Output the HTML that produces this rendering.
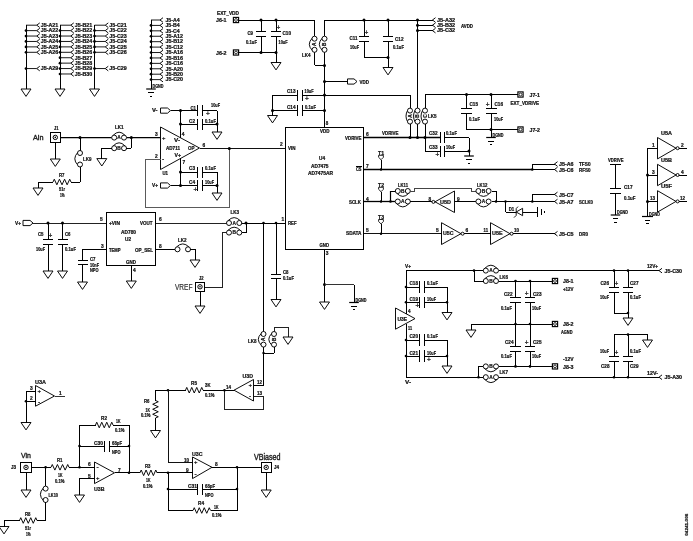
<!DOCTYPE html>
<html><head><meta charset="utf-8"><title>schematic</title>
<style>
html,body{margin:0;padding:0;background:#fff;}
svg{display:block;will-change:transform;transform:translateZ(0)}
text{font-family:"Liberation Sans",sans-serif;stroke:#111;stroke-width:0.22px;}
</style></head><body>
<svg width="693" height="541" viewBox="0 0 693 541">
<rect width="693" height="541" fill="#fff"/>
<line x1="26" y1="25.2" x2="36.75" y2="25.2" stroke="#000" stroke-width="0.9"/>
<path d="M39.75 22.9 L36.75 25.2 L39.75 27.5" fill="none" stroke="#000" stroke-width="0.95" stroke-linejoin="miter"/>
<text x="40.75" y="27" font-size="5" font-weight="bold" text-anchor="start" fill="#111" textLength="17.5" lengthAdjust="spacingAndGlyphs">J5-A21</text>
<line x1="26" y1="30.62" x2="36.75" y2="30.62" stroke="#000" stroke-width="0.9"/>
<path d="M39.75 28.32 L36.75 30.62 L39.75 32.92" fill="none" stroke="#000" stroke-width="0.95" stroke-linejoin="miter"/>
<text x="40.75" y="32.42" font-size="5" font-weight="bold" text-anchor="start" fill="#111" textLength="17.5" lengthAdjust="spacingAndGlyphs">J5-A22</text>
<line x1="26" y1="36.04" x2="36.75" y2="36.04" stroke="#000" stroke-width="0.9"/>
<path d="M39.75 33.74 L36.75 36.04 L39.75 38.34" fill="none" stroke="#000" stroke-width="0.95" stroke-linejoin="miter"/>
<text x="40.75" y="37.84" font-size="5" font-weight="bold" text-anchor="start" fill="#111" textLength="17.5" lengthAdjust="spacingAndGlyphs">J5-A23</text>
<line x1="26" y1="41.46" x2="36.75" y2="41.46" stroke="#000" stroke-width="0.9"/>
<path d="M39.75 39.16 L36.75 41.46 L39.75 43.76" fill="none" stroke="#000" stroke-width="0.95" stroke-linejoin="miter"/>
<text x="40.75" y="43.26" font-size="5" font-weight="bold" text-anchor="start" fill="#111" textLength="17.5" lengthAdjust="spacingAndGlyphs">J5-A24</text>
<line x1="26" y1="46.88" x2="36.75" y2="46.88" stroke="#000" stroke-width="0.9"/>
<path d="M39.75 44.58 L36.75 46.88 L39.75 49.18" fill="none" stroke="#000" stroke-width="0.95" stroke-linejoin="miter"/>
<text x="40.75" y="48.68" font-size="5" font-weight="bold" text-anchor="start" fill="#111" textLength="17.5" lengthAdjust="spacingAndGlyphs">J5-A25</text>
<line x1="26" y1="52.3" x2="36.75" y2="52.3" stroke="#000" stroke-width="0.9"/>
<path d="M39.75 50 L36.75 52.3 L39.75 54.6" fill="none" stroke="#000" stroke-width="0.95" stroke-linejoin="miter"/>
<text x="40.75" y="54.1" font-size="5" font-weight="bold" text-anchor="start" fill="#111" textLength="17.5" lengthAdjust="spacingAndGlyphs">J5-A26</text>
<line x1="26" y1="68.56" x2="36.75" y2="68.56" stroke="#000" stroke-width="0.9"/>
<path d="M39.75 66.26 L36.75 68.56 L39.75 70.86" fill="none" stroke="#000" stroke-width="0.95" stroke-linejoin="miter"/>
<text x="40.75" y="70.36" font-size="5" font-weight="bold" text-anchor="start" fill="#111" textLength="17.5" lengthAdjust="spacingAndGlyphs">J5-A29</text>
<circle cx="26" cy="30.62" r="1.35" fill="#000"/>
<circle cx="26" cy="36.04" r="1.35" fill="#000"/>
<circle cx="26" cy="41.46" r="1.35" fill="#000"/>
<circle cx="26" cy="46.88" r="1.35" fill="#000"/>
<circle cx="26" cy="52.3" r="1.35" fill="#000"/>
<circle cx="26" cy="68.56" r="1.35" fill="#000"/>
<line x1="26" y1="25.2" x2="26" y2="89" stroke="#000" stroke-width="1" shape-rendering="crispEdges"/>
<path d="M21 89 L31 89 L26 96.4 Z" fill="none" stroke="#000" stroke-width="0.95" stroke-linejoin="miter"/>
<line x1="60" y1="25.2" x2="70.75" y2="25.2" stroke="#000" stroke-width="0.9"/>
<path d="M73.75 22.9 L70.75 25.2 L73.75 27.5" fill="none" stroke="#000" stroke-width="0.95" stroke-linejoin="miter"/>
<text x="74.75" y="27" font-size="5" font-weight="bold" text-anchor="start" fill="#111" textLength="17.5" lengthAdjust="spacingAndGlyphs">J5-B21</text>
<line x1="60" y1="30.62" x2="70.75" y2="30.62" stroke="#000" stroke-width="0.9"/>
<path d="M73.75 28.32 L70.75 30.62 L73.75 32.92" fill="none" stroke="#000" stroke-width="0.95" stroke-linejoin="miter"/>
<text x="74.75" y="32.42" font-size="5" font-weight="bold" text-anchor="start" fill="#111" textLength="17.5" lengthAdjust="spacingAndGlyphs">J5-B22</text>
<line x1="60" y1="36.04" x2="70.75" y2="36.04" stroke="#000" stroke-width="0.9"/>
<path d="M73.75 33.74 L70.75 36.04 L73.75 38.34" fill="none" stroke="#000" stroke-width="0.95" stroke-linejoin="miter"/>
<text x="74.75" y="37.84" font-size="5" font-weight="bold" text-anchor="start" fill="#111" textLength="17.5" lengthAdjust="spacingAndGlyphs">J5-B23</text>
<line x1="60" y1="41.46" x2="70.75" y2="41.46" stroke="#000" stroke-width="0.9"/>
<path d="M73.75 39.16 L70.75 41.46 L73.75 43.76" fill="none" stroke="#000" stroke-width="0.95" stroke-linejoin="miter"/>
<text x="74.75" y="43.26" font-size="5" font-weight="bold" text-anchor="start" fill="#111" textLength="17.5" lengthAdjust="spacingAndGlyphs">J5-B24</text>
<line x1="60" y1="46.88" x2="70.75" y2="46.88" stroke="#000" stroke-width="0.9"/>
<path d="M73.75 44.58 L70.75 46.88 L73.75 49.18" fill="none" stroke="#000" stroke-width="0.95" stroke-linejoin="miter"/>
<text x="74.75" y="48.68" font-size="5" font-weight="bold" text-anchor="start" fill="#111" textLength="17.5" lengthAdjust="spacingAndGlyphs">J5-B25</text>
<line x1="60" y1="52.3" x2="70.75" y2="52.3" stroke="#000" stroke-width="0.9"/>
<path d="M73.75 50 L70.75 52.3 L73.75 54.6" fill="none" stroke="#000" stroke-width="0.95" stroke-linejoin="miter"/>
<text x="74.75" y="54.1" font-size="5" font-weight="bold" text-anchor="start" fill="#111" textLength="17.5" lengthAdjust="spacingAndGlyphs">J5-B26</text>
<line x1="60" y1="57.72" x2="70.75" y2="57.72" stroke="#000" stroke-width="0.9"/>
<path d="M73.75 55.42 L70.75 57.72 L73.75 60.02" fill="none" stroke="#000" stroke-width="0.95" stroke-linejoin="miter"/>
<text x="74.75" y="59.52" font-size="5" font-weight="bold" text-anchor="start" fill="#111" textLength="17.5" lengthAdjust="spacingAndGlyphs">J5-B27</text>
<line x1="60" y1="63.14" x2="70.75" y2="63.14" stroke="#000" stroke-width="0.9"/>
<path d="M73.75 60.84 L70.75 63.14 L73.75 65.44" fill="none" stroke="#000" stroke-width="0.95" stroke-linejoin="miter"/>
<text x="74.75" y="64.94" font-size="5" font-weight="bold" text-anchor="start" fill="#111" textLength="17.5" lengthAdjust="spacingAndGlyphs">J5-B28</text>
<line x1="60" y1="68.56" x2="70.75" y2="68.56" stroke="#000" stroke-width="0.9"/>
<path d="M73.75 66.26 L70.75 68.56 L73.75 70.86" fill="none" stroke="#000" stroke-width="0.95" stroke-linejoin="miter"/>
<text x="74.75" y="70.36" font-size="5" font-weight="bold" text-anchor="start" fill="#111" textLength="17.5" lengthAdjust="spacingAndGlyphs">J5-B29</text>
<line x1="60" y1="73.98" x2="70.75" y2="73.98" stroke="#000" stroke-width="0.9"/>
<path d="M73.75 71.68 L70.75 73.98 L73.75 76.28" fill="none" stroke="#000" stroke-width="0.95" stroke-linejoin="miter"/>
<text x="74.75" y="75.78" font-size="5" font-weight="bold" text-anchor="start" fill="#111" textLength="17.5" lengthAdjust="spacingAndGlyphs">J5-B30</text>
<circle cx="60" cy="30.62" r="1.35" fill="#000"/>
<circle cx="60" cy="36.04" r="1.35" fill="#000"/>
<circle cx="60" cy="41.46" r="1.35" fill="#000"/>
<circle cx="60" cy="46.88" r="1.35" fill="#000"/>
<circle cx="60" cy="52.3" r="1.35" fill="#000"/>
<circle cx="60" cy="57.72" r="1.35" fill="#000"/>
<circle cx="60" cy="63.14" r="1.35" fill="#000"/>
<circle cx="60" cy="68.56" r="1.35" fill="#000"/>
<circle cx="60" cy="73.98" r="1.35" fill="#000"/>
<line x1="60" y1="25.2" x2="60" y2="89" stroke="#000" stroke-width="1" shape-rendering="crispEdges"/>
<path d="M55 89 L65 89 L60 96.4 Z" fill="none" stroke="#000" stroke-width="0.95" stroke-linejoin="miter"/>
<line x1="94.5" y1="25.2" x2="105.25" y2="25.2" stroke="#000" stroke-width="0.9"/>
<path d="M108.25 22.9 L105.25 25.2 L108.25 27.5" fill="none" stroke="#000" stroke-width="0.95" stroke-linejoin="miter"/>
<text x="109.25" y="27" font-size="5" font-weight="bold" text-anchor="start" fill="#111" textLength="17.5" lengthAdjust="spacingAndGlyphs">J5-C21</text>
<line x1="94.5" y1="30.62" x2="105.25" y2="30.62" stroke="#000" stroke-width="0.9"/>
<path d="M108.25 28.32 L105.25 30.62 L108.25 32.92" fill="none" stroke="#000" stroke-width="0.95" stroke-linejoin="miter"/>
<text x="109.25" y="32.42" font-size="5" font-weight="bold" text-anchor="start" fill="#111" textLength="17.5" lengthAdjust="spacingAndGlyphs">J5-C22</text>
<line x1="94.5" y1="36.04" x2="105.25" y2="36.04" stroke="#000" stroke-width="0.9"/>
<path d="M108.25 33.74 L105.25 36.04 L108.25 38.34" fill="none" stroke="#000" stroke-width="0.95" stroke-linejoin="miter"/>
<text x="109.25" y="37.84" font-size="5" font-weight="bold" text-anchor="start" fill="#111" textLength="17.5" lengthAdjust="spacingAndGlyphs">J5-C23</text>
<line x1="94.5" y1="41.46" x2="105.25" y2="41.46" stroke="#000" stroke-width="0.9"/>
<path d="M108.25 39.16 L105.25 41.46 L108.25 43.76" fill="none" stroke="#000" stroke-width="0.95" stroke-linejoin="miter"/>
<text x="109.25" y="43.26" font-size="5" font-weight="bold" text-anchor="start" fill="#111" textLength="17.5" lengthAdjust="spacingAndGlyphs">J5-C24</text>
<line x1="94.5" y1="46.88" x2="105.25" y2="46.88" stroke="#000" stroke-width="0.9"/>
<path d="M108.25 44.58 L105.25 46.88 L108.25 49.18" fill="none" stroke="#000" stroke-width="0.95" stroke-linejoin="miter"/>
<text x="109.25" y="48.68" font-size="5" font-weight="bold" text-anchor="start" fill="#111" textLength="17.5" lengthAdjust="spacingAndGlyphs">J5-C25</text>
<line x1="94.5" y1="52.3" x2="105.25" y2="52.3" stroke="#000" stroke-width="0.9"/>
<path d="M108.25 50 L105.25 52.3 L108.25 54.6" fill="none" stroke="#000" stroke-width="0.95" stroke-linejoin="miter"/>
<text x="109.25" y="54.1" font-size="5" font-weight="bold" text-anchor="start" fill="#111" textLength="17.5" lengthAdjust="spacingAndGlyphs">J5-C26</text>
<line x1="94.5" y1="68.56" x2="105.25" y2="68.56" stroke="#000" stroke-width="0.9"/>
<path d="M108.25 66.26 L105.25 68.56 L108.25 70.86" fill="none" stroke="#000" stroke-width="0.95" stroke-linejoin="miter"/>
<text x="109.25" y="70.36" font-size="5" font-weight="bold" text-anchor="start" fill="#111" textLength="17.5" lengthAdjust="spacingAndGlyphs">J5-C29</text>
<circle cx="94.5" cy="30.62" r="1.35" fill="#000"/>
<circle cx="94.5" cy="36.04" r="1.35" fill="#000"/>
<circle cx="94.5" cy="41.46" r="1.35" fill="#000"/>
<circle cx="94.5" cy="46.88" r="1.35" fill="#000"/>
<circle cx="94.5" cy="52.3" r="1.35" fill="#000"/>
<circle cx="94.5" cy="68.56" r="1.35" fill="#000"/>
<line x1="94.5" y1="25.2" x2="94.5" y2="89" stroke="#000" stroke-width="1" shape-rendering="crispEdges"/>
<path d="M89.5 89 L99.5 89 L94.5 96.4 Z" fill="none" stroke="#000" stroke-width="0.95" stroke-linejoin="miter"/>
<line x1="151" y1="20" x2="160" y2="20" stroke="#000" stroke-width="0.9"/>
<path d="M163 17.7 L160 20 L163 22.3" fill="none" stroke="#000" stroke-width="0.95" stroke-linejoin="miter"/>
<text x="165.5" y="21.8" font-size="5" font-weight="bold" text-anchor="start" fill="#111" textLength="14" lengthAdjust="spacingAndGlyphs">J5-A4</text>
<line x1="151" y1="25.42" x2="160" y2="25.42" stroke="#000" stroke-width="0.9"/>
<path d="M163 23.12 L160 25.42 L163 27.72" fill="none" stroke="#000" stroke-width="0.95" stroke-linejoin="miter"/>
<text x="165.5" y="27.22" font-size="5" font-weight="bold" text-anchor="start" fill="#111" textLength="14" lengthAdjust="spacingAndGlyphs">J5-B4</text>
<line x1="151" y1="30.84" x2="160" y2="30.84" stroke="#000" stroke-width="0.9"/>
<path d="M163 28.54 L160 30.84 L163 33.14" fill="none" stroke="#000" stroke-width="0.95" stroke-linejoin="miter"/>
<text x="165.5" y="32.64" font-size="5" font-weight="bold" text-anchor="start" fill="#111" textLength="14" lengthAdjust="spacingAndGlyphs">J5-C4</text>
<line x1="151" y1="36.26" x2="160" y2="36.26" stroke="#000" stroke-width="0.9"/>
<path d="M163 33.96 L160 36.26 L163 38.56" fill="none" stroke="#000" stroke-width="0.95" stroke-linejoin="miter"/>
<text x="165.5" y="38.06" font-size="5" font-weight="bold" text-anchor="start" fill="#111" textLength="17.5" lengthAdjust="spacingAndGlyphs">J5-A12</text>
<line x1="151" y1="41.68" x2="160" y2="41.68" stroke="#000" stroke-width="0.9"/>
<path d="M163 39.38 L160 41.68 L163 43.98" fill="none" stroke="#000" stroke-width="0.95" stroke-linejoin="miter"/>
<text x="165.5" y="43.48" font-size="5" font-weight="bold" text-anchor="start" fill="#111" textLength="17.5" lengthAdjust="spacingAndGlyphs">J5-B12</text>
<line x1="151" y1="47.1" x2="160" y2="47.1" stroke="#000" stroke-width="0.9"/>
<path d="M163 44.8 L160 47.1 L163 49.4" fill="none" stroke="#000" stroke-width="0.95" stroke-linejoin="miter"/>
<text x="165.5" y="48.9" font-size="5" font-weight="bold" text-anchor="start" fill="#111" textLength="17.5" lengthAdjust="spacingAndGlyphs">J5-C12</text>
<line x1="151" y1="52.52" x2="160" y2="52.52" stroke="#000" stroke-width="0.9"/>
<path d="M163 50.22 L160 52.52 L163 54.82" fill="none" stroke="#000" stroke-width="0.95" stroke-linejoin="miter"/>
<text x="165.5" y="54.32" font-size="5" font-weight="bold" text-anchor="start" fill="#111" textLength="17.5" lengthAdjust="spacingAndGlyphs">J5-A16</text>
<line x1="151" y1="57.94" x2="160" y2="57.94" stroke="#000" stroke-width="0.9"/>
<path d="M163 55.64 L160 57.94 L163 60.24" fill="none" stroke="#000" stroke-width="0.95" stroke-linejoin="miter"/>
<text x="165.5" y="59.74" font-size="5" font-weight="bold" text-anchor="start" fill="#111" textLength="17.5" lengthAdjust="spacingAndGlyphs">J5-B16</text>
<line x1="151" y1="63.36" x2="160" y2="63.36" stroke="#000" stroke-width="0.9"/>
<path d="M163 61.06 L160 63.36 L163 65.66" fill="none" stroke="#000" stroke-width="0.95" stroke-linejoin="miter"/>
<text x="165.5" y="65.16" font-size="5" font-weight="bold" text-anchor="start" fill="#111" textLength="17.5" lengthAdjust="spacingAndGlyphs">J5-C16</text>
<line x1="151" y1="68.78" x2="160" y2="68.78" stroke="#000" stroke-width="0.9"/>
<path d="M163 66.48 L160 68.78 L163 71.08" fill="none" stroke="#000" stroke-width="0.95" stroke-linejoin="miter"/>
<text x="165.5" y="70.58" font-size="5" font-weight="bold" text-anchor="start" fill="#111" textLength="17.5" lengthAdjust="spacingAndGlyphs">J5-A20</text>
<line x1="151" y1="74.2" x2="160" y2="74.2" stroke="#000" stroke-width="0.9"/>
<path d="M163 71.9 L160 74.2 L163 76.5" fill="none" stroke="#000" stroke-width="0.95" stroke-linejoin="miter"/>
<text x="165.5" y="76" font-size="5" font-weight="bold" text-anchor="start" fill="#111" textLength="17.5" lengthAdjust="spacingAndGlyphs">J5-B20</text>
<line x1="151" y1="79.62" x2="160" y2="79.62" stroke="#000" stroke-width="0.9"/>
<path d="M163 77.32 L160 79.62 L163 81.92" fill="none" stroke="#000" stroke-width="0.95" stroke-linejoin="miter"/>
<text x="165.5" y="81.42" font-size="5" font-weight="bold" text-anchor="start" fill="#111" textLength="17.5" lengthAdjust="spacingAndGlyphs">J5-C20</text>
<circle cx="151" cy="25.42" r="1.35" fill="#000"/>
<circle cx="151" cy="30.84" r="1.35" fill="#000"/>
<circle cx="151" cy="36.26" r="1.35" fill="#000"/>
<circle cx="151" cy="41.68" r="1.35" fill="#000"/>
<circle cx="151" cy="47.1" r="1.35" fill="#000"/>
<circle cx="151" cy="52.52" r="1.35" fill="#000"/>
<circle cx="151" cy="57.94" r="1.35" fill="#000"/>
<circle cx="151" cy="63.36" r="1.35" fill="#000"/>
<circle cx="151" cy="68.78" r="1.35" fill="#000"/>
<circle cx="151" cy="74.2" r="1.35" fill="#000"/>
<circle cx="151" cy="79.62" r="1.35" fill="#000"/>
<line x1="151" y1="20" x2="151" y2="89" stroke="#000" stroke-width="1" shape-rendering="crispEdges"/>
<line x1="146.2" y1="89" x2="155.8" y2="89" stroke="#000" stroke-width="1.2"/>
<line x1="148.2" y1="92.5" x2="153.8" y2="92.5" stroke="#000" stroke-width="1" shape-rendering="crispEdges"/>
<line x1="149.8" y1="96" x2="152.2" y2="96" stroke="#000" stroke-width="1" shape-rendering="crispEdges"/>
<text x="152.5" y="88.06" font-size="4.6" font-weight="bold" text-anchor="start" fill="#111" textLength="11" lengthAdjust="spacingAndGlyphs">DGND</text>
<text x="217" y="14.8" font-size="5" font-weight="bold" text-anchor="start" fill="#111" textLength="22" lengthAdjust="spacingAndGlyphs">EXT_VDD</text>
<text x="216" y="22.3" font-size="5" font-weight="bold" text-anchor="start" fill="#111" textLength="10.5" lengthAdjust="spacingAndGlyphs">J6-1</text>
<text x="216" y="54.6" font-size="5" font-weight="bold" text-anchor="start" fill="#111" textLength="10.5" lengthAdjust="spacingAndGlyphs">J6-2</text>
<line x1="239" y1="20" x2="314.5" y2="20" stroke="#000" stroke-width="1" shape-rendering="crispEdges"/>
<line x1="239" y1="52.5" x2="276" y2="52.5" stroke="#000" stroke-width="1" shape-rendering="crispEdges"/>
<rect x="233.4" y="17.4" width="5.2" height="5.2" fill="#fff" stroke="#000" stroke-width="1.15"/>
<circle cx="236" cy="20" r="1.4" fill="none" stroke="#000" stroke-width="0.8"/>
<rect x="233.4" y="49.9" width="5.2" height="5.2" fill="#fff" stroke="#000" stroke-width="1.15"/>
<circle cx="236" cy="52.5" r="1.4" fill="none" stroke="#000" stroke-width="0.8"/>
<line x1="261" y1="20" x2="261" y2="31" stroke="#000" stroke-width="1" shape-rendering="crispEdges"/>
<line x1="261" y1="36" x2="261" y2="52.5" stroke="#000" stroke-width="1" shape-rendering="crispEdges"/>
<line x1="255.7" y1="31" x2="266.3" y2="31" stroke="#000" stroke-width="1" shape-rendering="crispEdges"/>
<line x1="255.7" y1="36" x2="266.3" y2="36" stroke="#000" stroke-width="1" shape-rendering="crispEdges"/>
<line x1="276" y1="20" x2="276" y2="31" stroke="#000" stroke-width="1" shape-rendering="crispEdges"/>
<line x1="276" y1="36" x2="276" y2="52.5" stroke="#000" stroke-width="1" shape-rendering="crispEdges"/>
<line x1="270.7" y1="31" x2="281.3" y2="31" stroke="#000" stroke-width="1" shape-rendering="crispEdges"/>
<line x1="270.7" y1="36" x2="281.3" y2="36" stroke="#000" stroke-width="1" shape-rendering="crispEdges"/>
<text x="276.6" y="29.74" font-size="6.5" font-weight="normal" text-anchor="start" fill="#111">+</text>
<text x="247.5" y="35.3" font-size="5" font-weight="bold" text-anchor="start" fill="#111" textLength="5.5" lengthAdjust="spacingAndGlyphs">C9</text>
<text x="246" y="44.3" font-size="5" font-weight="bold" text-anchor="start" fill="#111" textLength="11" lengthAdjust="spacingAndGlyphs">0.1uF</text>
<text x="282.5" y="35.3" font-size="5" font-weight="bold" text-anchor="start" fill="#111" textLength="8.5" lengthAdjust="spacingAndGlyphs">C10</text>
<text x="278.5" y="44.3" font-size="5" font-weight="bold" text-anchor="start" fill="#111" textLength="9" lengthAdjust="spacingAndGlyphs">10uF</text>
<circle cx="261" cy="20" r="1.5" fill="#000"/>
<circle cx="276" cy="20" r="1.5" fill="#000"/>
<circle cx="261" cy="52.5" r="1.5" fill="#000"/>
<circle cx="276" cy="52.5" r="1.5" fill="#000"/>
<line x1="276" y1="52.5" x2="276" y2="62.5" stroke="#000" stroke-width="1" shape-rendering="crispEdges"/>
<path d="M271 62.5 L281 62.5 L276 69.9 Z" fill="none" stroke="#000" stroke-width="0.95" stroke-linejoin="miter"/>
<line x1="314.5" y1="20" x2="314.5" y2="36.3" stroke="#000" stroke-width="1" shape-rendering="crispEdges"/>
<line x1="314.5" y1="52.2" x2="314.5" y2="65.4" stroke="#000" stroke-width="1" shape-rendering="crispEdges"/>
<line x1="314.5" y1="65.4" x2="324.5" y2="65.4" stroke="#000" stroke-width="1" shape-rendering="crispEdges"/>
<line x1="324.5" y1="20" x2="324.5" y2="36.3" stroke="#000" stroke-width="1" shape-rendering="crispEdges"/>
<line x1="324.5" y1="52.2" x2="324.5" y2="127" stroke="#000" stroke-width="1" shape-rendering="crispEdges"/>
<path d="M312.3 38.1 Q306.3 44.25 312.3 50.4" fill="none" stroke="#000" stroke-width="0.95"/>
<circle cx="314.5" cy="38.7" r="2.5" fill="#fff" stroke="#000" stroke-width="0.95"/>
<circle cx="314.5" cy="49.8" r="2.5" fill="#fff" stroke="#000" stroke-width="0.95"/>
<text x="314.5" y="45.98" font-size="4.8" font-weight="bold" text-anchor="middle" fill="#111" transform="rotate(-90 314.5 44.25)">A</text>
<path d="M322.3 38.1 Q316.3 44.25 322.3 50.4" fill="none" stroke="#000" stroke-width="0.95"/>
<circle cx="324.5" cy="38.7" r="2.5" fill="#fff" stroke="#000" stroke-width="0.95"/>
<circle cx="324.5" cy="49.8" r="2.5" fill="#fff" stroke="#000" stroke-width="0.95"/>
<text x="324.5" y="45.98" font-size="4.8" font-weight="bold" text-anchor="middle" fill="#111" transform="rotate(-90 324.5 44.25)">B</text>
<text x="302" y="57" font-size="5" font-weight="bold" text-anchor="start" fill="#111" textLength="8.5" lengthAdjust="spacingAndGlyphs">LK4</text>
<circle cx="324.5" cy="65.4" r="1.5" fill="#000"/>
<circle cx="324.5" cy="81.5" r="1.5" fill="#000"/>
<circle cx="324.5" cy="95" r="1.5" fill="#000"/>
<circle cx="324.5" cy="110.5" r="1.5" fill="#000"/>
<line x1="324.5" y1="20" x2="432.5" y2="20" stroke="#000" stroke-width="1" shape-rendering="crispEdges"/>
<circle cx="364" cy="20" r="1.5" fill="#000"/>
<circle cx="388" cy="20" r="1.5" fill="#000"/>
<circle cx="417.5" cy="20" r="1.5" fill="#000"/>
<circle cx="417.5" cy="25.2" r="1.5" fill="#000"/>
<circle cx="417.5" cy="30.6" r="1.5" fill="#000"/>
<line x1="364" y1="20" x2="364" y2="36.5" stroke="#000" stroke-width="1" shape-rendering="crispEdges"/>
<line x1="364" y1="41" x2="364" y2="57.5" stroke="#000" stroke-width="1" shape-rendering="crispEdges"/>
<line x1="364" y1="57.5" x2="388" y2="57.5" stroke="#000" stroke-width="1" shape-rendering="crispEdges"/>
<line x1="358.7" y1="36.5" x2="369.3" y2="36.5" stroke="#000" stroke-width="1" shape-rendering="crispEdges"/>
<line x1="358.7" y1="41" x2="369.3" y2="41" stroke="#000" stroke-width="1" shape-rendering="crispEdges"/>
<text x="364.6" y="35.24" font-size="6.5" font-weight="normal" text-anchor="start" fill="#111">+</text>
<line x1="388" y1="20" x2="388" y2="36.5" stroke="#000" stroke-width="1" shape-rendering="crispEdges"/>
<line x1="388" y1="41" x2="388" y2="67.5" stroke="#000" stroke-width="1" shape-rendering="crispEdges"/>
<line x1="382.7" y1="36.5" x2="393.3" y2="36.5" stroke="#000" stroke-width="1" shape-rendering="crispEdges"/>
<line x1="382.7" y1="41" x2="393.3" y2="41" stroke="#000" stroke-width="1" shape-rendering="crispEdges"/>
<circle cx="388" cy="57.5" r="1.5" fill="#000"/>
<path d="M383 67.5 L393 67.5 L388 74.9 Z" fill="none" stroke="#000" stroke-width="0.95" stroke-linejoin="miter"/>
<text x="349.5" y="40.3" font-size="5" font-weight="bold" text-anchor="start" fill="#111" textLength="8" lengthAdjust="spacingAndGlyphs">C11</text>
<text x="350" y="49.3" font-size="5" font-weight="bold" text-anchor="start" fill="#111" textLength="9" lengthAdjust="spacingAndGlyphs">10uF</text>
<text x="395" y="41.3" font-size="5" font-weight="bold" text-anchor="start" fill="#111" textLength="8.5" lengthAdjust="spacingAndGlyphs">C12</text>
<text x="393" y="49.3" font-size="5" font-weight="bold" text-anchor="start" fill="#111" textLength="11" lengthAdjust="spacingAndGlyphs">0.1uF</text>
<line x1="324.5" y1="81.5" x2="347.5" y2="81.5" stroke="#000" stroke-width="1" shape-rendering="crispEdges"/>
<path d="M347.5 78.9 L354 78.9 L357 81.5 L354 84.1 L347.5 84.1 Z" fill="none" stroke="#000" stroke-width="0.95" stroke-linejoin="miter"/>
<text x="359.5" y="83.8" font-size="5" font-weight="bold" text-anchor="start" fill="#111" textLength="9.5" lengthAdjust="spacingAndGlyphs">VDD</text>
<line x1="272.5" y1="95" x2="297.5" y2="95" stroke="#000" stroke-width="1" shape-rendering="crispEdges"/>
<line x1="302.5" y1="95" x2="410" y2="95" stroke="#000" stroke-width="1" shape-rendering="crispEdges"/>
<line x1="297.5" y1="89.5" x2="297.5" y2="100.5" stroke="#000" stroke-width="1" shape-rendering="crispEdges"/>
<line x1="302.5" y1="89.5" x2="302.5" y2="100.5" stroke="#000" stroke-width="1" shape-rendering="crispEdges"/>
<line x1="272.5" y1="110.5" x2="297.5" y2="110.5" stroke="#000" stroke-width="1" shape-rendering="crispEdges"/>
<line x1="302.5" y1="110.5" x2="324.5" y2="110.5" stroke="#000" stroke-width="1" shape-rendering="crispEdges"/>
<line x1="297.5" y1="105" x2="297.5" y2="116" stroke="#000" stroke-width="1" shape-rendering="crispEdges"/>
<line x1="302.5" y1="105" x2="302.5" y2="116" stroke="#000" stroke-width="1" shape-rendering="crispEdges"/>
<line x1="272.5" y1="95" x2="272.5" y2="115.5" stroke="#000" stroke-width="1" shape-rendering="crispEdges"/>
<circle cx="272.5" cy="110.5" r="1.5" fill="#000"/>
<path d="M267.5 115.5 L277.5 115.5 L272.5 122.9 Z" fill="none" stroke="#000" stroke-width="0.95" stroke-linejoin="miter"/>
<text x="287" y="92.8" font-size="5" font-weight="bold" text-anchor="start" fill="#111" textLength="8.5" lengthAdjust="spacingAndGlyphs">C13</text>
<text x="304.5" y="92.8" font-size="5" font-weight="bold" text-anchor="start" fill="#111" textLength="9" lengthAdjust="spacingAndGlyphs">10uF</text>
<text x="305" y="101.34" font-size="6.5" font-weight="normal" text-anchor="start" fill="#111">+</text>
<text x="287" y="108.8" font-size="5" font-weight="bold" text-anchor="start" fill="#111" textLength="8.5" lengthAdjust="spacingAndGlyphs">C14</text>
<text x="305" y="108.8" font-size="5" font-weight="bold" text-anchor="start" fill="#111" textLength="11" lengthAdjust="spacingAndGlyphs">0.1uF</text>
<text x="325.8" y="125.12" font-size="4.5" font-weight="bold" text-anchor="start" fill="#111">8</text>
<line x1="410" y1="95" x2="410" y2="108.2" stroke="#000" stroke-width="1" shape-rendering="crispEdges"/>
<line x1="417.5" y1="20" x2="417.5" y2="108.2" stroke="#000" stroke-width="1" shape-rendering="crispEdges"/>
<line x1="425" y1="94.5" x2="425" y2="108.2" stroke="#000" stroke-width="1" shape-rendering="crispEdges"/>
<line x1="425" y1="94.5" x2="517.5" y2="94.5" stroke="#000" stroke-width="1" shape-rendering="crispEdges"/>
<line x1="410" y1="124.3" x2="410" y2="137.5" stroke="#000" stroke-width="1" shape-rendering="crispEdges"/>
<path d="M407.8 110 Q404.2 116.1 407.8 122.2" fill="none" stroke="#000" stroke-width="0.95"/>
<circle cx="410" cy="110.6" r="2.5" fill="#fff" stroke="#000" stroke-width="0.95"/>
<circle cx="410" cy="121.6" r="2.5" fill="#fff" stroke="#000" stroke-width="0.95"/>
<text x="410" y="117.83" font-size="4.8" font-weight="bold" text-anchor="middle" fill="#111" transform="rotate(-90 410 116.1)">A</text>
<line x1="417.5" y1="124.3" x2="417.5" y2="137.5" stroke="#000" stroke-width="1" shape-rendering="crispEdges"/>
<path d="M415.3 110 Q411.7 116.1 415.3 122.2" fill="none" stroke="#000" stroke-width="0.95"/>
<circle cx="417.5" cy="110.6" r="2.5" fill="#fff" stroke="#000" stroke-width="0.95"/>
<circle cx="417.5" cy="121.6" r="2.5" fill="#fff" stroke="#000" stroke-width="0.95"/>
<text x="417.5" y="117.83" font-size="4.8" font-weight="bold" text-anchor="middle" fill="#111" transform="rotate(-90 417.5 116.1)">B</text>
<line x1="425" y1="124.3" x2="425" y2="137.5" stroke="#000" stroke-width="1" shape-rendering="crispEdges"/>
<path d="M422.8 110 Q419.2 116.1 422.8 122.2" fill="none" stroke="#000" stroke-width="0.95"/>
<circle cx="425" cy="110.6" r="2.5" fill="#fff" stroke="#000" stroke-width="0.95"/>
<circle cx="425" cy="121.6" r="2.5" fill="#fff" stroke="#000" stroke-width="0.95"/>
<text x="425" y="117.83" font-size="4.8" font-weight="bold" text-anchor="middle" fill="#111" transform="rotate(-90 425 116.1)">C</text>
<text x="428" y="118.3" font-size="5" font-weight="bold" text-anchor="start" fill="#111" textLength="8.5" lengthAdjust="spacingAndGlyphs">LK5</text>
<line x1="417.5" y1="20" x2="432.5" y2="20" stroke="#000" stroke-width="1" shape-rendering="crispEdges"/>
<path d="M435.5 17.7 L432.5 20 L435.5 22.3" fill="none" stroke="#000" stroke-width="0.95" stroke-linejoin="miter"/>
<text x="437" y="21.8" font-size="5" font-weight="bold" text-anchor="start" fill="#111" textLength="18" lengthAdjust="spacingAndGlyphs">J5-A32</text>
<line x1="417.5" y1="25.2" x2="432.5" y2="25.2" stroke="#000" stroke-width="1" shape-rendering="crispEdges"/>
<path d="M435.5 22.9 L432.5 25.2 L435.5 27.5" fill="none" stroke="#000" stroke-width="0.95" stroke-linejoin="miter"/>
<text x="437" y="27" font-size="5" font-weight="bold" text-anchor="start" fill="#111" textLength="18" lengthAdjust="spacingAndGlyphs">J5-B32</text>
<line x1="417.5" y1="30.6" x2="432.5" y2="30.6" stroke="#000" stroke-width="1" shape-rendering="crispEdges"/>
<path d="M435.5 28.3 L432.5 30.6 L435.5 32.9" fill="none" stroke="#000" stroke-width="0.95" stroke-linejoin="miter"/>
<text x="437" y="32.4" font-size="5" font-weight="bold" text-anchor="start" fill="#111" textLength="18" lengthAdjust="spacingAndGlyphs">J5-C32</text>
<text x="461" y="27.6" font-size="5" font-weight="bold" text-anchor="start" fill="#111" textLength="12" lengthAdjust="spacingAndGlyphs">AVDD</text>
<line x1="466.5" y1="94.5" x2="466.5" y2="108" stroke="#000" stroke-width="1" shape-rendering="crispEdges"/>
<line x1="466.5" y1="113" x2="466.5" y2="129.5" stroke="#000" stroke-width="1" shape-rendering="crispEdges"/>
<line x1="461" y1="108" x2="472" y2="108" stroke="#000" stroke-width="1" shape-rendering="crispEdges"/>
<line x1="461" y1="113" x2="472" y2="113" stroke="#000" stroke-width="1" shape-rendering="crispEdges"/>
<line x1="491" y1="94.5" x2="491" y2="108" stroke="#000" stroke-width="1" shape-rendering="crispEdges"/>
<line x1="491" y1="113" x2="491" y2="129.5" stroke="#000" stroke-width="1" shape-rendering="crispEdges"/>
<line x1="485.5" y1="108" x2="496.5" y2="108" stroke="#000" stroke-width="1" shape-rendering="crispEdges"/>
<line x1="485.5" y1="113" x2="496.5" y2="113" stroke="#000" stroke-width="1" shape-rendering="crispEdges"/>
<text x="485.8" y="106.74" font-size="6.5" font-weight="normal" text-anchor="start" fill="#111">+</text>
<line x1="466.5" y1="129.5" x2="517.5" y2="129.5" stroke="#000" stroke-width="1" shape-rendering="crispEdges"/>
<circle cx="466.5" cy="94.5" r="1.5" fill="#000"/>
<circle cx="491" cy="94.5" r="1.5" fill="#000"/>
<circle cx="491" cy="129.5" r="1.5" fill="#000"/>
<line x1="491" y1="129.5" x2="491" y2="137.5" stroke="#000" stroke-width="1" shape-rendering="crispEdges"/>
<line x1="486.2" y1="137.5" x2="495.8" y2="137.5" stroke="#000" stroke-width="1.2"/>
<line x1="488.2" y1="141" x2="493.8" y2="141" stroke="#000" stroke-width="1" shape-rendering="crispEdges"/>
<line x1="489.8" y1="144.5" x2="492.2" y2="144.5" stroke="#000" stroke-width="1" shape-rendering="crispEdges"/>
<text x="492.5" y="136.56" font-size="4.6" font-weight="bold" text-anchor="start" fill="#111" textLength="11" lengthAdjust="spacingAndGlyphs">DGND</text>
<rect x="517.9" y="91.9" width="5.2" height="5.2" fill="#fff" stroke="#000" stroke-width="1.15"/>
<circle cx="520.5" cy="94.5" r="1.4" fill="none" stroke="#000" stroke-width="0.8"/>
<rect x="517.9" y="126.9" width="5.2" height="5.2" fill="#fff" stroke="#000" stroke-width="1.15"/>
<circle cx="520.5" cy="129.5" r="1.4" fill="none" stroke="#000" stroke-width="0.8"/>
<text x="529.5" y="96.8" font-size="5" font-weight="bold" text-anchor="start" fill="#111" textLength="10.5" lengthAdjust="spacingAndGlyphs">J7-1</text>
<text x="529.5" y="131.8" font-size="5" font-weight="bold" text-anchor="start" fill="#111" textLength="10.5" lengthAdjust="spacingAndGlyphs">J7-2</text>
<text x="510.5" y="105.1" font-size="5" font-weight="bold" text-anchor="start" fill="#111" textLength="28.5" lengthAdjust="spacingAndGlyphs">EXT_VDRIVE</text>
<text x="469.5" y="105.8" font-size="5" font-weight="bold" text-anchor="start" fill="#111" textLength="8.5" lengthAdjust="spacingAndGlyphs">C15</text>
<text x="469" y="121.3" font-size="5" font-weight="bold" text-anchor="start" fill="#111" textLength="11" lengthAdjust="spacingAndGlyphs">0.1uF</text>
<text x="494.5" y="105.8" font-size="5" font-weight="bold" text-anchor="start" fill="#111" textLength="8.5" lengthAdjust="spacingAndGlyphs">C16</text>
<text x="494" y="121.3" font-size="5" font-weight="bold" text-anchor="start" fill="#111" textLength="9" lengthAdjust="spacingAndGlyphs">10uF</text>
<text x="33" y="140.38" font-size="8" font-weight="normal" text-anchor="start" fill="#222" textLength="10.5" lengthAdjust="spacingAndGlyphs" style="stroke:#222;stroke-width:0.4px">Ain</text>
<text x="54" y="130.3" font-size="5" font-weight="bold" text-anchor="start" fill="#111" textLength="4.5" lengthAdjust="spacingAndGlyphs">J1</text>
<line x1="60.5" y1="137.6" x2="111.8" y2="137.6" stroke="#000" stroke-width="1.4"/>
<line x1="126.4" y1="137.6" x2="160.5" y2="137.6" stroke="#000" stroke-width="1.4"/>
<rect x="50.05" y="132.15" width="10.5" height="10.5" fill="#fff" stroke="#000" stroke-width="1" shape-rendering="crispEdges"/>
<circle cx="55.3" cy="137.4" r="2.2" fill="#fff" stroke="#000" stroke-width="1"/>
<circle cx="55.3" cy="137.4" r="0.8" fill="#000"/>
<line x1="55.3" y1="142.6" x2="55.3" y2="159" stroke="#000" stroke-width="1" shape-rendering="crispEdges"/>
<path d="M50.3 159 L60.3 159 L55.3 166.4 Z" fill="none" stroke="#000" stroke-width="0.95" stroke-linejoin="miter"/>
<circle cx="80" cy="137.6" r="1.5" fill="#000"/>
<circle cx="131.3" cy="137.6" r="1.5" fill="#000"/>
<line x1="80" y1="137.6" x2="80" y2="150.6" stroke="#000" stroke-width="1" shape-rendering="crispEdges"/>
<line x1="80" y1="166.9" x2="80" y2="182" stroke="#000" stroke-width="1" shape-rendering="crispEdges"/>
<line x1="71" y1="182" x2="80" y2="182" stroke="#000" stroke-width="1" shape-rendering="crispEdges"/>
<path d="M77.8 152.4 Q71.8 158.75 77.8 165.1" fill="none" stroke="#000" stroke-width="0.95"/>
<circle cx="80" cy="153" r="2.5" fill="#fff" stroke="#000" stroke-width="0.95"/>
<circle cx="80" cy="164.5" r="2.5" fill="#fff" stroke="#000" stroke-width="0.95"/>
<text x="83" y="160.8" font-size="5" font-weight="bold" text-anchor="start" fill="#111" textLength="8.5" lengthAdjust="spacingAndGlyphs">LK9</text>
<path d="M53 182 L54.29 179.2 L56.86 184.8 L59.43 179.2 L62 184.8 L64.57 179.2 L67.14 184.8 L69.71 179.2 L71 182" fill="none" stroke="#000" stroke-width="0.95" stroke-linejoin="miter"/>
<line x1="38" y1="182" x2="53" y2="182" stroke="#000" stroke-width="1" shape-rendering="crispEdges"/>
<line x1="38" y1="182" x2="38" y2="188" stroke="#000" stroke-width="1" shape-rendering="crispEdges"/>
<path d="M33 188 L43 188 L38 195.4 Z" fill="none" stroke="#000" stroke-width="0.95" stroke-linejoin="miter"/>
<text x="59" y="176.8" font-size="5" font-weight="bold" text-anchor="start" fill="#111" textLength="5.5" lengthAdjust="spacingAndGlyphs">R7</text>
<text x="59" y="190.8" font-size="5" font-weight="bold" text-anchor="start" fill="#111" textLength="6" lengthAdjust="spacingAndGlyphs">51r</text>
<text x="60" y="196.8" font-size="5" font-weight="bold" text-anchor="start" fill="#111" textLength="4.5" lengthAdjust="spacingAndGlyphs">1%</text>
<path d="M113.2 135.3 Q119.1 129.1 125 135.3" fill="none" stroke="#000" stroke-width="0.95"/>
<circle cx="114.2" cy="137.6" r="2.5" fill="#fff" stroke="#000" stroke-width="0.95"/>
<circle cx="124" cy="137.6" r="2.5" fill="#fff" stroke="#000" stroke-width="0.95"/>
<text x="119.1" y="139.33" font-size="4.8" font-weight="bold" text-anchor="middle" fill="#111">A</text>
<path d="M113.2 145.9 Q119.1 139.7 125 145.9" fill="none" stroke="#000" stroke-width="0.95"/>
<circle cx="114.2" cy="148.2" r="2.5" fill="#fff" stroke="#000" stroke-width="0.95"/>
<circle cx="124" cy="148.2" r="2.5" fill="#fff" stroke="#000" stroke-width="0.95"/>
<text x="119.1" y="149.93" font-size="4.8" font-weight="bold" text-anchor="middle" fill="#111">B</text>
<text x="115" y="128.8" font-size="5" font-weight="bold" text-anchor="start" fill="#111" textLength="8.5" lengthAdjust="spacingAndGlyphs">LK1</text>
<line x1="126.4" y1="148.2" x2="131.3" y2="148.2" stroke="#000" stroke-width="1" shape-rendering="crispEdges"/>
<line x1="131.3" y1="137.6" x2="131.3" y2="148.2" stroke="#000" stroke-width="1" shape-rendering="crispEdges"/>
<line x1="101.8" y1="148.2" x2="111.8" y2="148.2" stroke="#000" stroke-width="1" shape-rendering="crispEdges"/>
<line x1="101.8" y1="148.2" x2="101.8" y2="158.6" stroke="#000" stroke-width="1" shape-rendering="crispEdges"/>
<path d="M96.8 158.6 L106.8 158.6 L101.8 166 Z" fill="none" stroke="#000" stroke-width="0.95" stroke-linejoin="miter"/>
<path d="M160.5 127 L160.5 169.5 L199.5 148 Z" fill="none" stroke="#000" stroke-width="0.95" stroke-linejoin="miter"/>
<text x="155" y="135.73" font-size="4.8" font-weight="bold" text-anchor="start" fill="#111">3</text>
<text x="155" y="157.73" font-size="4.8" font-weight="bold" text-anchor="start" fill="#111">2</text>
<text x="162" y="140.46" font-size="6" font-weight="normal" text-anchor="start" fill="#111">+</text>
<text x="162" y="161.14" font-size="6.5" font-weight="normal" text-anchor="start" fill="#111">-</text>
<text x="174" y="142.1" font-size="5" font-weight="bold" text-anchor="start" fill="#111" textLength="6" lengthAdjust="spacingAndGlyphs">V-</text>
<text x="166" y="150.1" font-size="5" font-weight="bold" text-anchor="start" fill="#111" textLength="14" lengthAdjust="spacingAndGlyphs">AD711</text>
<text x="188" y="150.1" font-size="5" font-weight="bold" text-anchor="start" fill="#111" textLength="6.5" lengthAdjust="spacingAndGlyphs">OP</text>
<text x="174.5" y="157.3" font-size="5" font-weight="bold" text-anchor="start" fill="#111" textLength="6.5" lengthAdjust="spacingAndGlyphs">V+</text>
<text x="162.5" y="174.8" font-size="5" font-weight="bold" text-anchor="start" fill="#111" textLength="5.5" lengthAdjust="spacingAndGlyphs">U1</text>
<text x="181.8" y="135.93" font-size="4.8" font-weight="bold" text-anchor="start" fill="#111">4</text>
<text x="182.5" y="164.23" font-size="4.8" font-weight="bold" text-anchor="start" fill="#111">7</text>
<text x="202.5" y="146.73" font-size="4.8" font-weight="bold" text-anchor="start" fill="#111">6</text>
<path d="M160.5 159 L145.8 159 L145.8 207 L229.3 207 L229.3 148" fill="none" stroke="#5a5a5a" stroke-width="1" stroke-linejoin="miter" shape-rendering="crispEdges"/>
<line x1="199.5" y1="148.4" x2="285.5" y2="148.4" stroke="#111" stroke-width="1" shape-rendering="crispEdges"/>
<circle cx="229.3" cy="148.4" r="1.5" fill="#000"/>
<text x="152" y="112.3" font-size="5" font-weight="bold" text-anchor="start" fill="#111" textLength="5.5" lengthAdjust="spacingAndGlyphs">V-</text>
<path d="M160.5 108 L167.5 108 L170.5 110.6 L167.5 113.2 L160.5 113.2 Z" fill="none" stroke="#000" stroke-width="0.95" stroke-linejoin="miter"/>
<line x1="170.5" y1="110.6" x2="197" y2="110.6" stroke="#000" stroke-width="1" shape-rendering="crispEdges"/>
<line x1="202.5" y1="110.6" x2="217" y2="110.6" stroke="#000" stroke-width="1" shape-rendering="crispEdges"/>
<line x1="197" y1="105.4" x2="197" y2="115.8" stroke="#000" stroke-width="1" shape-rendering="crispEdges"/>
<line x1="202.5" y1="105.4" x2="202.5" y2="115.8" stroke="#000" stroke-width="1" shape-rendering="crispEdges"/>
<line x1="180.5" y1="110.6" x2="180.5" y2="137.8" stroke="#000" stroke-width="1" shape-rendering="crispEdges"/>
<circle cx="180.5" cy="110.6" r="1.5" fill="#000"/>
<circle cx="180.5" cy="124" r="1.5" fill="#000"/>
<line x1="180.5" y1="124" x2="197" y2="124" stroke="#000" stroke-width="1" shape-rendering="crispEdges"/>
<line x1="202.5" y1="124" x2="217" y2="124" stroke="#000" stroke-width="1" shape-rendering="crispEdges"/>
<line x1="197" y1="118.5" x2="197" y2="129.5" stroke="#000" stroke-width="1" shape-rendering="crispEdges"/>
<line x1="202.5" y1="118.5" x2="202.5" y2="129.5" stroke="#000" stroke-width="1" shape-rendering="crispEdges"/>
<line x1="217" y1="110.6" x2="217" y2="132" stroke="#000" stroke-width="1" shape-rendering="crispEdges"/>
<circle cx="217" cy="124" r="1.5" fill="#000"/>
<path d="M212 132 L222 132 L217 139.4 Z" fill="none" stroke="#000" stroke-width="0.95" stroke-linejoin="miter"/>
<text x="190.5" y="110" font-size="5" font-weight="bold" text-anchor="start" fill="#111" textLength="5.5" lengthAdjust="spacingAndGlyphs">C1</text>
<text x="189" y="122.8" font-size="5" font-weight="bold" text-anchor="start" fill="#111" textLength="6" lengthAdjust="spacingAndGlyphs">C2</text>
<text x="211" y="107.3" font-size="5" font-weight="bold" text-anchor="start" fill="#111" textLength="9" lengthAdjust="spacingAndGlyphs">10uF</text>
<text x="206" y="115.84" font-size="6.5" font-weight="normal" text-anchor="start" fill="#111">+</text>
<text x="205" y="122.8" font-size="5" font-weight="bold" text-anchor="start" fill="#111" textLength="11" lengthAdjust="spacingAndGlyphs">0.1uF</text>
<line x1="180.5" y1="158.4" x2="180.5" y2="185.5" stroke="#000" stroke-width="1" shape-rendering="crispEdges"/>
<circle cx="180.5" cy="172" r="1.5" fill="#000"/>
<circle cx="180.5" cy="185.5" r="1.5" fill="#000"/>
<line x1="180.5" y1="172" x2="197" y2="172" stroke="#000" stroke-width="1" shape-rendering="crispEdges"/>
<line x1="202.5" y1="172" x2="217" y2="172" stroke="#000" stroke-width="1" shape-rendering="crispEdges"/>
<line x1="197" y1="166.5" x2="197" y2="177.5" stroke="#000" stroke-width="1" shape-rendering="crispEdges"/>
<line x1="202.5" y1="166.5" x2="202.5" y2="177.5" stroke="#000" stroke-width="1" shape-rendering="crispEdges"/>
<line x1="170.5" y1="185.5" x2="197" y2="185.5" stroke="#000" stroke-width="1" shape-rendering="crispEdges"/>
<line x1="202.5" y1="185.5" x2="217" y2="185.5" stroke="#000" stroke-width="1" shape-rendering="crispEdges"/>
<line x1="197" y1="180" x2="197" y2="191" stroke="#000" stroke-width="1" shape-rendering="crispEdges"/>
<line x1="202.5" y1="180" x2="202.5" y2="191" stroke="#000" stroke-width="1" shape-rendering="crispEdges"/>
<line x1="217" y1="172" x2="217" y2="193" stroke="#000" stroke-width="1" shape-rendering="crispEdges"/>
<circle cx="217" cy="185.5" r="1.5" fill="#000"/>
<path d="M212 193 L222 193 L217 200.4 Z" fill="none" stroke="#000" stroke-width="0.95" stroke-linejoin="miter"/>
<text x="152" y="187.3" font-size="5" font-weight="bold" text-anchor="start" fill="#111" textLength="6" lengthAdjust="spacingAndGlyphs">V+</text>
<path d="M160.5 182.9 L167.5 182.9 L170.5 185.5 L167.5 188.1 L160.5 188.1 Z" fill="none" stroke="#000" stroke-width="0.95" stroke-linejoin="miter"/>
<text x="189" y="170.3" font-size="5" font-weight="bold" text-anchor="start" fill="#111" textLength="6" lengthAdjust="spacingAndGlyphs">C3</text>
<text x="205" y="170.3" font-size="5" font-weight="bold" text-anchor="start" fill="#111" textLength="11" lengthAdjust="spacingAndGlyphs">0.1uF</text>
<text x="189" y="183.8" font-size="5" font-weight="bold" text-anchor="start" fill="#111" textLength="6" lengthAdjust="spacingAndGlyphs">C4</text>
<text x="205" y="183.8" font-size="5" font-weight="bold" text-anchor="start" fill="#111" textLength="9" lengthAdjust="spacingAndGlyphs">10uF</text>
<text x="193.5" y="191.84" font-size="6.5" font-weight="normal" text-anchor="start" fill="#111">+</text>
<rect x="285.5" y="127.5" width="78" height="122" fill="none" stroke="#000" stroke-width="1" shape-rendering="crispEdges"/>
<text x="320" y="132.6" font-size="5" font-weight="bold" text-anchor="start" fill="#111" textLength="9.5" lengthAdjust="spacingAndGlyphs">VDD</text>
<text x="345" y="139.8" font-size="5" font-weight="bold" text-anchor="start" fill="#111" textLength="16.5" lengthAdjust="spacingAndGlyphs">VDRIVE</text>
<text x="366" y="136.23" font-size="4.8" font-weight="bold" text-anchor="start" fill="#111">6</text>
<text x="288" y="150.1" font-size="5" font-weight="bold" text-anchor="start" fill="#111" textLength="7.5" lengthAdjust="spacingAndGlyphs">VIN</text>
<text x="280" y="146.23" font-size="4.8" font-weight="bold" text-anchor="start" fill="#111">2</text>
<text x="319" y="160.3" font-size="5" font-weight="bold" text-anchor="start" fill="#111" textLength="6" lengthAdjust="spacingAndGlyphs">U4</text>
<text x="311" y="168.1" font-size="5" font-weight="bold" text-anchor="start" fill="#111" textLength="17.5" lengthAdjust="spacingAndGlyphs">AD7475</text>
<text x="308" y="175.3" font-size="5" font-weight="bold" text-anchor="start" fill="#111" textLength="25" lengthAdjust="spacingAndGlyphs">AD7475AR</text>
<text x="356" y="171.3" font-size="5" font-weight="bold" text-anchor="start" fill="#111" textLength="5.5" lengthAdjust="spacingAndGlyphs">CS</text>
<line x1="356" y1="166.2" x2="361.5" y2="166.2" stroke="#000" stroke-width="1" shape-rendering="crispEdges"/>
<text x="366" y="167.73" font-size="4.8" font-weight="bold" text-anchor="start" fill="#111">7</text>
<text x="349" y="204.1" font-size="5" font-weight="bold" text-anchor="start" fill="#111" textLength="12" lengthAdjust="spacingAndGlyphs">SCLK</text>
<text x="366" y="200.73" font-size="4.8" font-weight="bold" text-anchor="start" fill="#111">4</text>
<text x="288" y="225.1" font-size="5" font-weight="bold" text-anchor="start" fill="#111" textLength="8.5" lengthAdjust="spacingAndGlyphs">REF</text>
<text x="281.5" y="221.03" font-size="4.8" font-weight="bold" text-anchor="start" fill="#111">1</text>
<text x="346" y="235.3" font-size="5" font-weight="bold" text-anchor="start" fill="#111" textLength="15.5" lengthAdjust="spacingAndGlyphs">SDATA</text>
<text x="366" y="232.03" font-size="4.8" font-weight="bold" text-anchor="start" fill="#111">5</text>
<text x="319.5" y="247.3" font-size="5" font-weight="bold" text-anchor="start" fill="#111" textLength="9.5" lengthAdjust="spacingAndGlyphs">GND</text>
<text x="325.8" y="255.23" font-size="4.8" font-weight="bold" text-anchor="start" fill="#111">3</text>
<line x1="364" y1="137.5" x2="440" y2="137.5" stroke="#000" stroke-width="1.35"/>
<text x="382" y="134.8" font-size="5" font-weight="bold" text-anchor="start" fill="#111" textLength="16.5" lengthAdjust="spacingAndGlyphs">VDRIVE</text>
<circle cx="410" cy="137.5" r="1.5" fill="#000"/>
<circle cx="417.5" cy="137.5" r="1.5" fill="#000"/>
<circle cx="425" cy="137.5" r="1.5" fill="#000"/>
<line x1="440" y1="132" x2="440" y2="143" stroke="#000" stroke-width="1" shape-rendering="crispEdges"/>
<line x1="444.6" y1="132" x2="444.6" y2="143" stroke="#000" stroke-width="1" shape-rendering="crispEdges"/>
<line x1="444.6" y1="137.5" x2="469" y2="137.5" stroke="#000" stroke-width="1" shape-rendering="crispEdges"/>
<line x1="469" y1="137.5" x2="469" y2="156" stroke="#000" stroke-width="1" shape-rendering="crispEdges"/>
<line x1="425" y1="137.5" x2="425" y2="151" stroke="#000" stroke-width="1" shape-rendering="crispEdges"/>
<line x1="425" y1="151" x2="440" y2="151" stroke="#000" stroke-width="1" shape-rendering="crispEdges"/>
<line x1="440" y1="145.5" x2="440" y2="156.5" stroke="#000" stroke-width="1" shape-rendering="crispEdges"/>
<line x1="444.6" y1="145.5" x2="444.6" y2="156.5" stroke="#000" stroke-width="1" shape-rendering="crispEdges"/>
<line x1="444.6" y1="151" x2="469" y2="151" stroke="#000" stroke-width="1" shape-rendering="crispEdges"/>
<circle cx="469" cy="151" r="1.5" fill="#000"/>
<line x1="464.2" y1="156" x2="473.8" y2="156" stroke="#000" stroke-width="1.2"/>
<line x1="466.2" y1="159.5" x2="471.8" y2="159.5" stroke="#000" stroke-width="1" shape-rendering="crispEdges"/>
<line x1="467.8" y1="163" x2="470.2" y2="163" stroke="#000" stroke-width="1" shape-rendering="crispEdges"/>
<text x="429" y="134.8" font-size="5" font-weight="bold" text-anchor="start" fill="#111" textLength="8.5" lengthAdjust="spacingAndGlyphs">C32</text>
<text x="446" y="134.8" font-size="5" font-weight="bold" text-anchor="start" fill="#111" textLength="11" lengthAdjust="spacingAndGlyphs">0.1uF</text>
<text x="429" y="149" font-size="5" font-weight="bold" text-anchor="start" fill="#111" textLength="8.5" lengthAdjust="spacingAndGlyphs">C33</text>
<text x="446" y="149" font-size="5" font-weight="bold" text-anchor="start" fill="#111" textLength="9" lengthAdjust="spacingAndGlyphs">10uF</text>
<text x="435.5" y="156.84" font-size="6.5" font-weight="normal" text-anchor="start" fill="#111">+</text>
<line x1="364" y1="169.5" x2="532.3" y2="169.5" stroke="#000" stroke-width="1.4"/>
<circle cx="381" cy="169.5" r="1.2" fill="#000"/>
<line x1="381" y1="169.5" x2="381" y2="159.7" stroke="#000" stroke-width="1" shape-rendering="crispEdges"/>
<path d="M378.6 155.3 L378.6 157.3 L381 159.7 L383.4 157.3 L383.4 155.3 Z" fill="none" stroke="#000" stroke-width="0.85" stroke-linejoin="miter"/>
<text x="381" y="154.9" font-size="5" font-weight="bold" text-anchor="middle" fill="#111" textLength="6" lengthAdjust="spacingAndGlyphs">T1</text>
<line x1="532.3" y1="164" x2="532.3" y2="169.5" stroke="#000" stroke-width="1" shape-rendering="crispEdges"/>
<circle cx="532.3" cy="169.5" r="1.3" fill="#000"/>
<line x1="532.3" y1="164" x2="554.5" y2="164" stroke="#000" stroke-width="1" shape-rendering="crispEdges"/>
<path d="M557.5 161.7 L554.5 164 L557.5 166.3" fill="none" stroke="#000" stroke-width="0.95" stroke-linejoin="miter"/>
<text x="559" y="166.1" font-size="5" font-weight="bold" text-anchor="start" fill="#111" textLength="14.5" lengthAdjust="spacingAndGlyphs">J5-A6</text>
<text x="579" y="166.1" font-size="5" font-weight="bold" text-anchor="start" fill="#111" textLength="11.5" lengthAdjust="spacingAndGlyphs">TFS0</text>
<line x1="532.3" y1="169.5" x2="554.5" y2="169.5" stroke="#000" stroke-width="1" shape-rendering="crispEdges"/>
<path d="M557.5 167.2 L554.5 169.5 L557.5 171.8" fill="none" stroke="#000" stroke-width="0.95" stroke-linejoin="miter"/>
<text x="559" y="171.6" font-size="5" font-weight="bold" text-anchor="start" fill="#111" textLength="14.5" lengthAdjust="spacingAndGlyphs">J5-C6</text>
<text x="579" y="171.6" font-size="5" font-weight="bold" text-anchor="start" fill="#111" textLength="11.5" lengthAdjust="spacingAndGlyphs">RFS0</text>
<line x1="364" y1="201.5" x2="395" y2="201.5" stroke="#000" stroke-width="1.3"/>
<circle cx="381" cy="201.5" r="1.2" fill="#000"/>
<line x1="381" y1="201.5" x2="381" y2="191.7" stroke="#000" stroke-width="1" shape-rendering="crispEdges"/>
<path d="M378.6 187.3 L378.6 189.3 L381 191.7 L383.4 189.3 L383.4 187.3 Z" fill="none" stroke="#000" stroke-width="0.85" stroke-linejoin="miter"/>
<text x="381" y="186.9" font-size="5" font-weight="bold" text-anchor="middle" fill="#111" textLength="6" lengthAdjust="spacingAndGlyphs">T2</text>
<circle cx="390.5" cy="201.5" r="1.3" fill="#000"/>
<line x1="390.5" y1="191" x2="390.5" y2="201.5" stroke="#000" stroke-width="1.2"/>
<line x1="390.5" y1="191" x2="395" y2="191" stroke="#000" stroke-width="1" shape-rendering="crispEdges"/>
<path d="M396.8 193.3 Q402.8 199.5 408.8 193.3" fill="none" stroke="#000" stroke-width="0.95"/>
<circle cx="397.8" cy="191" r="2.5" fill="#fff" stroke="#000" stroke-width="0.95"/>
<circle cx="407.8" cy="191" r="2.5" fill="#fff" stroke="#000" stroke-width="0.95"/>
<text x="402.8" y="192.73" font-size="4.8" font-weight="bold" text-anchor="middle" fill="#111">B</text>
<path d="M396.8 203.8 Q402.8 210 408.8 203.8" fill="none" stroke="#000" stroke-width="0.95"/>
<circle cx="397.8" cy="201.5" r="2.5" fill="#fff" stroke="#000" stroke-width="0.95"/>
<circle cx="407.8" cy="201.5" r="2.5" fill="#fff" stroke="#000" stroke-width="0.95"/>
<text x="402.8" y="203.23" font-size="4.8" font-weight="bold" text-anchor="middle" fill="#111">A</text>
<text x="398" y="186.6" font-size="5" font-weight="bold" text-anchor="start" fill="#111" textLength="10" lengthAdjust="spacingAndGlyphs">LK11</text>
<path d="M410.3 191 L414.5 191 L414.5 188.2 L471 188.2 L471 191 L475.9 191" fill="none" stroke="#444" stroke-width="1" stroke-linejoin="miter" shape-rendering="crispEdges"/>
<line x1="410.3" y1="201.5" x2="432" y2="201.5" stroke="#000" stroke-width="1" shape-rendering="crispEdges"/>
<path d="M454.5 191 L454.5 212.5 L435 201.8 Z" fill="none" stroke="#000" stroke-width="0.95" stroke-linejoin="miter"/>
<circle cx="433.4" cy="201.9" r="1.5" fill="#fff" stroke="#000" stroke-width="0.95"/>
<text x="440" y="204.35" font-size="5.7" font-weight="bold" text-anchor="start" fill="#111" textLength="11" lengthAdjust="spacingAndGlyphs">U5D</text>
<text x="428.5" y="200.73" font-size="4.8" font-weight="bold" text-anchor="start" fill="#111">8</text>
<text x="457" y="200.73" font-size="4.8" font-weight="bold" text-anchor="start" fill="#111">9</text>
<line x1="454.5" y1="201.5" x2="476.6" y2="201.5" stroke="#000" stroke-width="1" shape-rendering="crispEdges"/>
<path d="M477.4 193.3 Q483.5 199.5 489.6 193.3" fill="none" stroke="#000" stroke-width="0.95"/>
<circle cx="478.4" cy="191" r="2.5" fill="#fff" stroke="#000" stroke-width="0.95"/>
<circle cx="488.6" cy="191" r="2.5" fill="#fff" stroke="#000" stroke-width="0.95"/>
<text x="483.5" y="192.73" font-size="4.8" font-weight="bold" text-anchor="middle" fill="#111">B</text>
<path d="M477.4 203.8 Q483.5 210 489.6 203.8" fill="none" stroke="#000" stroke-width="0.95"/>
<circle cx="478.4" cy="201.5" r="2.5" fill="#fff" stroke="#000" stroke-width="0.95"/>
<circle cx="488.6" cy="201.5" r="2.5" fill="#fff" stroke="#000" stroke-width="0.95"/>
<text x="483.5" y="203.23" font-size="4.8" font-weight="bold" text-anchor="middle" fill="#111">A</text>
<text x="477" y="186.6" font-size="5" font-weight="bold" text-anchor="start" fill="#111" textLength="10.5" lengthAdjust="spacingAndGlyphs">LK12</text>
<line x1="491.5" y1="191" x2="496" y2="191" stroke="#000" stroke-width="1" shape-rendering="crispEdges"/>
<line x1="496" y1="191" x2="496" y2="201.5" stroke="#000" stroke-width="1" shape-rendering="crispEdges"/>
<line x1="491.5" y1="201.5" x2="554.5" y2="201.5" stroke="#000" stroke-width="1" shape-rendering="crispEdges"/>
<circle cx="496" cy="201.5" r="1.3" fill="#000"/>
<circle cx="505.5" cy="201.5" r="1.2" fill="#000"/>
<circle cx="532.3" cy="201.5" r="1.3" fill="#000"/>
<line x1="505.5" y1="201.5" x2="505.5" y2="212" stroke="#000" stroke-width="1" shape-rendering="crispEdges"/>
<line x1="505.5" y1="212" x2="516.2" y2="212" stroke="#000" stroke-width="1" shape-rendering="crispEdges"/>
<path d="M522.6 208.3 L516.2 212 L522.6 215.7 Z" fill="none" stroke="#000" stroke-width="0.95" stroke-linejoin="miter"/>
<path d="M518 206.6 L516.2 208.6 L516.2 215.4 L514 217.6" fill="none" stroke="#000" stroke-width="0.9" stroke-linejoin="miter"/>
<line x1="522.6" y1="212" x2="537.5" y2="212" stroke="#000" stroke-width="1" shape-rendering="crispEdges"/>
<line x1="537.5" y1="206.8" x2="537.5" y2="217.3" stroke="#000" stroke-width="1" shape-rendering="crispEdges"/>
<line x1="541" y1="209.2" x2="541" y2="215" stroke="#000" stroke-width="1" shape-rendering="crispEdges"/>
<line x1="544" y1="211" x2="544" y2="213.3" stroke="#000" stroke-width="1" shape-rendering="crispEdges"/>
<text x="508.7" y="211.06" font-size="4.6" font-weight="bold" text-anchor="start" fill="#111" textLength="5.5" lengthAdjust="spacingAndGlyphs">D1</text>
<line x1="532.3" y1="194.4" x2="532.3" y2="201.5" stroke="#000" stroke-width="1" shape-rendering="crispEdges"/>
<line x1="532.3" y1="194.4" x2="554.5" y2="194.4" stroke="#000" stroke-width="1" shape-rendering="crispEdges"/>
<path d="M557.5 192.1 L554.5 194.4 L557.5 196.7" fill="none" stroke="#000" stroke-width="0.95" stroke-linejoin="miter"/>
<text x="559" y="196.5" font-size="5" font-weight="bold" text-anchor="start" fill="#111" textLength="14.5" lengthAdjust="spacingAndGlyphs">J5-C7</text>
<line x1="532.3" y1="201.5" x2="554.5" y2="201.5" stroke="#000" stroke-width="1" shape-rendering="crispEdges"/>
<path d="M557.5 199.2 L554.5 201.5 L557.5 203.8" fill="none" stroke="#000" stroke-width="0.95" stroke-linejoin="miter"/>
<text x="559" y="203.6" font-size="5" font-weight="bold" text-anchor="start" fill="#111" textLength="14.5" lengthAdjust="spacingAndGlyphs">J5-A7</text>
<text x="579" y="203.6" font-size="5" font-weight="bold" text-anchor="start" fill="#111" textLength="14" lengthAdjust="spacingAndGlyphs">SCLK0</text>
<line x1="364" y1="233.6" x2="442" y2="233.6" stroke="#111" stroke-width="1" shape-rendering="crispEdges"/>
<circle cx="381" cy="233.7" r="1.2" fill="#000"/>
<line x1="381" y1="233.7" x2="381" y2="223.9" stroke="#000" stroke-width="1" shape-rendering="crispEdges"/>
<path d="M378.6 219.5 L378.6 221.5 L381 223.9 L383.4 221.5 L383.4 219.5 Z" fill="none" stroke="#000" stroke-width="0.85" stroke-linejoin="miter"/>
<text x="381" y="219.1" font-size="5" font-weight="bold" text-anchor="middle" fill="#111" textLength="6" lengthAdjust="spacingAndGlyphs">T3</text>
<path d="M441.5 222.7 L441.5 244.5 L461 233.7 Z" fill="none" stroke="#000" stroke-width="0.95" stroke-linejoin="miter"/>
<circle cx="462.6" cy="233.7" r="1.5" fill="#fff" stroke="#000" stroke-width="0.95"/>
<text x="443" y="234.55" font-size="5.7" font-weight="bold" text-anchor="start" fill="#111" textLength="10.5" lengthAdjust="spacingAndGlyphs">U5C</text>
<text x="436" y="232.03" font-size="4.8" font-weight="bold" text-anchor="start" fill="#111">5</text>
<text x="465.5" y="232.03" font-size="4.8" font-weight="bold" text-anchor="start" fill="#111">6</text>
<line x1="464.2" y1="233.7" x2="491" y2="233.7" stroke="#000" stroke-width="1" shape-rendering="crispEdges"/>
<path d="M490.5 222.7 L490.5 244.5 L510 233.7 Z" fill="none" stroke="#000" stroke-width="0.95" stroke-linejoin="miter"/>
<circle cx="511.6" cy="233.7" r="1.5" fill="#fff" stroke="#000" stroke-width="0.95"/>
<text x="492" y="234.55" font-size="5.7" font-weight="bold" text-anchor="start" fill="#111" textLength="10.5" lengthAdjust="spacingAndGlyphs">U5E</text>
<text x="483.5" y="232.03" font-size="4.8" font-weight="bold" text-anchor="start" fill="#111" textLength="4.5" lengthAdjust="spacingAndGlyphs">11</text>
<text x="514" y="232.03" font-size="4.8" font-weight="bold" text-anchor="start" fill="#111" textLength="5" lengthAdjust="spacingAndGlyphs">10</text>
<line x1="513.2" y1="233.7" x2="554.5" y2="233.7" stroke="#000" stroke-width="1" shape-rendering="crispEdges"/>
<path d="M557.5 231.4 L554.5 233.7 L557.5 236" fill="none" stroke="#000" stroke-width="0.95" stroke-linejoin="miter"/>
<text x="559" y="235.8" font-size="5" font-weight="bold" text-anchor="start" fill="#111" textLength="14.5" lengthAdjust="spacingAndGlyphs">J5-C5</text>
<text x="579" y="235.8" font-size="5" font-weight="bold" text-anchor="start" fill="#111" textLength="9" lengthAdjust="spacingAndGlyphs">DR0</text>
<line x1="324.5" y1="249" x2="324.5" y2="302" stroke="#000" stroke-width="1" shape-rendering="crispEdges"/>
<circle cx="324.5" cy="284.5" r="1.5" fill="#000"/>
<path d="M319.5 302 L329.5 302 L324.5 309.4 Z" fill="none" stroke="#000" stroke-width="0.95" stroke-linejoin="miter"/>
<line x1="324.5" y1="284.5" x2="354" y2="284.5" stroke="#333" stroke-width="1" shape-rendering="crispEdges"/>
<line x1="354" y1="284.5" x2="354" y2="302.5" stroke="#000" stroke-width="1" shape-rendering="crispEdges"/>
<line x1="349.2" y1="302.5" x2="358.8" y2="302.5" stroke="#000" stroke-width="1.2"/>
<line x1="351.2" y1="306" x2="356.8" y2="306" stroke="#000" stroke-width="1" shape-rendering="crispEdges"/>
<line x1="352.8" y1="309.5" x2="355.2" y2="309.5" stroke="#000" stroke-width="1" shape-rendering="crispEdges"/>
<text x="355.5" y="301.56" font-size="4.6" font-weight="bold" text-anchor="start" fill="#111" textLength="11" lengthAdjust="spacingAndGlyphs">DGND</text>
<text x="608" y="162.1" font-size="5" font-weight="bold" text-anchor="start" fill="#111" textLength="15.5" lengthAdjust="spacingAndGlyphs">VDRIVE</text>
<line x1="610" y1="164.3" x2="621" y2="164.3" stroke="#000" stroke-width="1" shape-rendering="crispEdges"/>
<line x1="615.5" y1="164.3" x2="615.5" y2="188" stroke="#000" stroke-width="1" shape-rendering="crispEdges"/>
<line x1="610.2" y1="188" x2="620.8" y2="188" stroke="#000" stroke-width="1" shape-rendering="crispEdges"/>
<line x1="610.2" y1="193" x2="620.8" y2="193" stroke="#000" stroke-width="1" shape-rendering="crispEdges"/>
<line x1="615.5" y1="193" x2="615.5" y2="215" stroke="#000" stroke-width="1" shape-rendering="crispEdges"/>
<line x1="610.7" y1="215" x2="620.3" y2="215" stroke="#000" stroke-width="1.2"/>
<line x1="612.7" y1="218.5" x2="618.3" y2="218.5" stroke="#000" stroke-width="1" shape-rendering="crispEdges"/>
<line x1="614.3" y1="222" x2="616.7" y2="222" stroke="#000" stroke-width="1" shape-rendering="crispEdges"/>
<text x="617" y="214.06" font-size="4.6" font-weight="bold" text-anchor="start" fill="#111" textLength="11" lengthAdjust="spacingAndGlyphs">DGND</text>
<text x="624" y="188.8" font-size="5" font-weight="bold" text-anchor="start" fill="#111" textLength="8.5" lengthAdjust="spacingAndGlyphs">C17</text>
<text x="624" y="199.8" font-size="5" font-weight="bold" text-anchor="start" fill="#111" textLength="11.5" lengthAdjust="spacingAndGlyphs">0.1uF</text>
<line x1="647.5" y1="148" x2="647.5" y2="216.5" stroke="#000" stroke-width="1" shape-rendering="crispEdges"/>
<path d="M657.5 137.5 L657.5 158.9 L676 148.2 Z" fill="none" stroke="#000" stroke-width="0.95" stroke-linejoin="miter"/>
<circle cx="677.6" cy="148.2" r="1.5" fill="#fff" stroke="#000" stroke-width="0.95"/>
<line x1="647.5" y1="148.2" x2="657.5" y2="148.2" stroke="#000" stroke-width="1" shape-rendering="crispEdges"/>
<line x1="679.2" y1="148.2" x2="686.5" y2="148.2" stroke="#000" stroke-width="1" shape-rendering="crispEdges"/>
<text x="661" y="135.25" font-size="5.7" font-weight="bold" text-anchor="start" fill="#111" textLength="11" lengthAdjust="spacingAndGlyphs">U5A</text>
<text x="652" y="146.73" font-size="4.8" font-weight="bold" text-anchor="start" fill="#111">1</text>
<text x="681" y="146.73" font-size="4.8" font-weight="bold" text-anchor="start" fill="#111">2</text>
<path d="M657.5 164.3 L657.5 185.7 L676 175 Z" fill="none" stroke="#000" stroke-width="0.95" stroke-linejoin="miter"/>
<circle cx="677.6" cy="175" r="1.5" fill="#fff" stroke="#000" stroke-width="0.95"/>
<line x1="647.5" y1="175" x2="657.5" y2="175" stroke="#000" stroke-width="1" shape-rendering="crispEdges"/>
<line x1="679.2" y1="175" x2="686.5" y2="175" stroke="#000" stroke-width="1" shape-rendering="crispEdges"/>
<text x="661" y="162.05" font-size="5.7" font-weight="bold" text-anchor="start" fill="#111" textLength="11" lengthAdjust="spacingAndGlyphs">U5B</text>
<text x="652" y="173.53" font-size="4.8" font-weight="bold" text-anchor="start" fill="#111">3</text>
<text x="681" y="173.53" font-size="4.8" font-weight="bold" text-anchor="start" fill="#111">4</text>
<path d="M657.5 190.7 L657.5 212.1 L676 201.4 Z" fill="none" stroke="#000" stroke-width="0.95" stroke-linejoin="miter"/>
<circle cx="677.6" cy="201.4" r="1.5" fill="#fff" stroke="#000" stroke-width="0.95"/>
<line x1="647.5" y1="201.4" x2="657.5" y2="201.4" stroke="#000" stroke-width="1" shape-rendering="crispEdges"/>
<line x1="679.2" y1="201.4" x2="686.5" y2="201.4" stroke="#000" stroke-width="1" shape-rendering="crispEdges"/>
<text x="661" y="188.45" font-size="5.7" font-weight="bold" text-anchor="start" fill="#111" textLength="11" lengthAdjust="spacingAndGlyphs">U5F</text>
<text x="650" y="199.93" font-size="4.8" font-weight="bold" text-anchor="start" fill="#111" textLength="5" lengthAdjust="spacingAndGlyphs">13</text>
<text x="680" y="199.93" font-size="4.8" font-weight="bold" text-anchor="start" fill="#111" textLength="5" lengthAdjust="spacingAndGlyphs">12</text>
<circle cx="647.5" cy="175" r="1.5" fill="#000"/>
<circle cx="647.5" cy="201.4" r="1.5" fill="#000"/>
<line x1="642" y1="216.5" x2="653" y2="216.5" stroke="#000" stroke-width="1.2"/>
<line x1="644.7" y1="220" x2="650.3" y2="220" stroke="#000" stroke-width="1" shape-rendering="crispEdges"/>
<line x1="646.3" y1="223.5" x2="648.7" y2="223.5" stroke="#000" stroke-width="1" shape-rendering="crispEdges"/>
<text x="649" y="215.56" font-size="4.6" font-weight="bold" text-anchor="start" fill="#111" textLength="11" lengthAdjust="spacingAndGlyphs">DGND</text>
<text x="15" y="224.8" font-size="5" font-weight="bold" text-anchor="start" fill="#111" textLength="6" lengthAdjust="spacingAndGlyphs">V+</text>
<path d="M23 220.4 L30 220.4 L33 223 L30 225.6 L23 225.6 Z" fill="none" stroke="#000" stroke-width="0.95" stroke-linejoin="miter"/>
<line x1="33" y1="223" x2="106.5" y2="223" stroke="#222" stroke-width="1" shape-rendering="crispEdges"/>
<circle cx="48" cy="223" r="1.5" fill="#000"/>
<circle cx="62.5" cy="223" r="1.5" fill="#000"/>
<line x1="48" y1="223" x2="48" y2="239" stroke="#000" stroke-width="1" shape-rendering="crispEdges"/>
<line x1="48" y1="244" x2="48" y2="271" stroke="#000" stroke-width="1" shape-rendering="crispEdges"/>
<line x1="43" y1="239" x2="53" y2="239" stroke="#000" stroke-width="1" shape-rendering="crispEdges"/>
<line x1="43" y1="244" x2="53" y2="244" stroke="#000" stroke-width="1" shape-rendering="crispEdges"/>
<text x="48.6" y="237.74" font-size="6.5" font-weight="normal" text-anchor="start" fill="#111">+</text>
<path d="M43 271 L53 271 L48 278.4 Z" fill="none" stroke="#000" stroke-width="0.95" stroke-linejoin="miter"/>
<line x1="62.5" y1="223" x2="62.5" y2="239" stroke="#000" stroke-width="1" shape-rendering="crispEdges"/>
<line x1="62.5" y1="244" x2="62.5" y2="271" stroke="#000" stroke-width="1" shape-rendering="crispEdges"/>
<line x1="57.5" y1="239" x2="67.5" y2="239" stroke="#000" stroke-width="1" shape-rendering="crispEdges"/>
<line x1="57.5" y1="244" x2="67.5" y2="244" stroke="#000" stroke-width="1" shape-rendering="crispEdges"/>
<path d="M57.5 271 L67.5 271 L62.5 278.4 Z" fill="none" stroke="#000" stroke-width="0.95" stroke-linejoin="miter"/>
<text x="38" y="236.1" font-size="5" font-weight="bold" text-anchor="start" fill="#111" textLength="5.5" lengthAdjust="spacingAndGlyphs">C5</text>
<text x="36" y="251.3" font-size="5" font-weight="bold" text-anchor="start" fill="#111" textLength="9" lengthAdjust="spacingAndGlyphs">10uF</text>
<text x="65" y="236.1" font-size="5" font-weight="bold" text-anchor="start" fill="#111" textLength="5.5" lengthAdjust="spacingAndGlyphs">C6</text>
<text x="65" y="251.3" font-size="5" font-weight="bold" text-anchor="start" fill="#111" textLength="11" lengthAdjust="spacingAndGlyphs">0.1uF</text>
<rect x="106.5" y="212.5" width="49" height="53" fill="none" stroke="#000" stroke-width="1" shape-rendering="crispEdges"/>
<text x="100" y="221.03" font-size="4.8" font-weight="bold" text-anchor="start" fill="#111">5</text>
<text x="109" y="225.1" font-size="5" font-weight="bold" text-anchor="start" fill="#111" textLength="11" lengthAdjust="spacingAndGlyphs">+VIN</text>
<text x="140" y="225.1" font-size="5" font-weight="bold" text-anchor="start" fill="#111" textLength="12.5" lengthAdjust="spacingAndGlyphs">VOUT</text>
<text x="121" y="234.1" font-size="5" font-weight="bold" text-anchor="start" fill="#111" textLength="15" lengthAdjust="spacingAndGlyphs">AD780</text>
<text x="125" y="241.1" font-size="5" font-weight="bold" text-anchor="start" fill="#111" textLength="6" lengthAdjust="spacingAndGlyphs">U2</text>
<text x="109" y="251.5" font-size="5" font-weight="bold" text-anchor="start" fill="#111" textLength="11.5" lengthAdjust="spacingAndGlyphs">TEMP</text>
<text x="135" y="251.5" font-size="5" font-weight="bold" text-anchor="start" fill="#111" textLength="18" lengthAdjust="spacingAndGlyphs">OP_SEL</text>
<text x="126" y="263.8" font-size="5" font-weight="bold" text-anchor="start" fill="#111" textLength="10" lengthAdjust="spacingAndGlyphs">GND</text>
<text x="101" y="247.73" font-size="4.8" font-weight="bold" text-anchor="start" fill="#111">3</text>
<text x="159" y="247.73" font-size="4.8" font-weight="bold" text-anchor="start" fill="#111">8</text>
<text x="159" y="221.03" font-size="4.8" font-weight="bold" text-anchor="start" fill="#111">6</text>
<text x="133" y="272.03" font-size="4.8" font-weight="bold" text-anchor="start" fill="#111">4</text>
<line x1="82.5" y1="249.3" x2="106.5" y2="249.3" stroke="#000" stroke-width="1" shape-rendering="crispEdges"/>
<line x1="82.5" y1="249.3" x2="82.5" y2="260" stroke="#000" stroke-width="1" shape-rendering="crispEdges"/>
<line x1="77.5" y1="260" x2="87.5" y2="260" stroke="#000" stroke-width="1" shape-rendering="crispEdges"/>
<line x1="77.5" y1="264.6" x2="87.5" y2="264.6" stroke="#000" stroke-width="1" shape-rendering="crispEdges"/>
<line x1="82.5" y1="264.6" x2="82.5" y2="282" stroke="#000" stroke-width="1" shape-rendering="crispEdges"/>
<path d="M77.5 282 L87.5 282 L82.5 289.4 Z" fill="none" stroke="#000" stroke-width="0.95" stroke-linejoin="miter"/>
<text x="90" y="260.8" font-size="5" font-weight="bold" text-anchor="start" fill="#111" textLength="5.5" lengthAdjust="spacingAndGlyphs">C7</text>
<text x="90" y="266.6" font-size="5" font-weight="bold" text-anchor="start" fill="#111" textLength="9" lengthAdjust="spacingAndGlyphs">10nF</text>
<text x="90" y="272.3" font-size="5" font-weight="bold" text-anchor="start" fill="#111" textLength="8.5" lengthAdjust="spacingAndGlyphs">NPO</text>
<line x1="131.3" y1="265.5" x2="131.3" y2="281" stroke="#000" stroke-width="1" shape-rendering="crispEdges"/>
<path d="M126.3 281 L136.3 281 L131.3 288.4 Z" fill="none" stroke="#000" stroke-width="0.95" stroke-linejoin="miter"/>
<line x1="156" y1="249.3" x2="175" y2="249.3" stroke="#000" stroke-width="1" shape-rendering="crispEdges"/>
<path d="M176.5 247 Q182.75 240.8 189 247" fill="none" stroke="#000" stroke-width="0.95"/>
<circle cx="177.5" cy="249.3" r="2.5" fill="#fff" stroke="#000" stroke-width="0.95"/>
<circle cx="188" cy="249.3" r="2.5" fill="#fff" stroke="#000" stroke-width="0.95"/>
<text x="178" y="242.1" font-size="5" font-weight="bold" text-anchor="start" fill="#111" textLength="8.5" lengthAdjust="spacingAndGlyphs">LK2</text>
<line x1="190.4" y1="249.3" x2="195" y2="249.3" stroke="#000" stroke-width="1" shape-rendering="crispEdges"/>
<line x1="195" y1="249.3" x2="195" y2="260" stroke="#000" stroke-width="1" shape-rendering="crispEdges"/>
<path d="M190 260 L200 260 L195 267.4 Z" fill="none" stroke="#000" stroke-width="0.95" stroke-linejoin="miter"/>
<line x1="156" y1="223" x2="226.6" y2="223" stroke="#222" stroke-width="1" shape-rendering="crispEdges"/>
<path d="M228 220.7 Q234.15 214.5 240.3 220.7" fill="none" stroke="#000" stroke-width="0.95"/>
<circle cx="229" cy="223" r="2.5" fill="#fff" stroke="#000" stroke-width="0.95"/>
<circle cx="239.3" cy="223" r="2.5" fill="#fff" stroke="#000" stroke-width="0.95"/>
<text x="234.15" y="224.73" font-size="4.8" font-weight="bold" text-anchor="middle" fill="#111">A</text>
<path d="M228 230.3 Q234.15 224.1 240.3 230.3" fill="none" stroke="#000" stroke-width="0.95"/>
<circle cx="229" cy="232.6" r="2.5" fill="#fff" stroke="#000" stroke-width="0.95"/>
<circle cx="239.3" cy="232.6" r="2.5" fill="#fff" stroke="#000" stroke-width="0.95"/>
<text x="234.15" y="234.33" font-size="4.8" font-weight="bold" text-anchor="middle" fill="#111">B</text>
<text x="230.5" y="214.1" font-size="5" font-weight="bold" text-anchor="start" fill="#111" textLength="8.5" lengthAdjust="spacingAndGlyphs">LK3</text>
<line x1="241.7" y1="223" x2="286" y2="223" stroke="#000" stroke-width="1" shape-rendering="crispEdges"/>
<line x1="241.7" y1="232.6" x2="246" y2="232.6" stroke="#000" stroke-width="1" shape-rendering="crispEdges"/>
<line x1="246" y1="223" x2="246" y2="232.6" stroke="#000" stroke-width="1" shape-rendering="crispEdges"/>
<circle cx="246" cy="223" r="1.5" fill="#000"/>
<circle cx="263.5" cy="223" r="1.3" fill="#000"/>
<circle cx="276" cy="223" r="1.3" fill="#000"/>
<path d="M226.6 232.6 L222 232.6 L222 287 L205 287" fill="none" stroke="#222" stroke-width="1" stroke-linejoin="miter" shape-rendering="crispEdges"/>
<rect x="195.25" y="282.05" width="9.5" height="9.5" fill="#fff" stroke="#000" stroke-width="1" shape-rendering="crispEdges"/>
<circle cx="200" cy="286.8" r="2.2" fill="#fff" stroke="#000" stroke-width="1"/>
<circle cx="200" cy="286.8" r="0.8" fill="#000"/>
<text x="199" y="280.1" font-size="5" font-weight="bold" text-anchor="start" fill="#111" textLength="4.5" lengthAdjust="spacingAndGlyphs">J2</text>
<text x="175" y="290.19" font-size="8.3" font-weight="normal" text-anchor="start" fill="#333" textLength="17.5" lengthAdjust="spacingAndGlyphs" style="stroke:#333;stroke-width:0.2px">VREF</text>
<line x1="200" y1="291.6" x2="200" y2="306" stroke="#000" stroke-width="1" shape-rendering="crispEdges"/>
<path d="M195 306 L205 306 L200 313.4 Z" fill="none" stroke="#000" stroke-width="0.95" stroke-linejoin="miter"/>
<line x1="276" y1="223" x2="276" y2="274" stroke="#000" stroke-width="1" shape-rendering="crispEdges"/>
<line x1="271" y1="274" x2="281" y2="274" stroke="#000" stroke-width="1" shape-rendering="crispEdges"/>
<line x1="271" y1="278.4" x2="281" y2="278.4" stroke="#000" stroke-width="1" shape-rendering="crispEdges"/>
<line x1="276" y1="278.4" x2="276" y2="299.5" stroke="#000" stroke-width="1" shape-rendering="crispEdges"/>
<path d="M271 299.5 L281 299.5 L276 306.9 Z" fill="none" stroke="#000" stroke-width="0.95" stroke-linejoin="miter"/>
<text x="283" y="273.8" font-size="5" font-weight="bold" text-anchor="start" fill="#111" textLength="5.5" lengthAdjust="spacingAndGlyphs">C8</text>
<text x="283" y="280.1" font-size="5" font-weight="bold" text-anchor="start" fill="#111" textLength="11" lengthAdjust="spacingAndGlyphs">0.1uF</text>
<line x1="263.5" y1="223" x2="263.5" y2="331.6" stroke="#000" stroke-width="1" shape-rendering="crispEdges"/>
<path d="M261.3 333.4 Q255.3 339.3 261.3 345.2" fill="none" stroke="#000" stroke-width="0.95"/>
<circle cx="263.5" cy="334" r="2.5" fill="#fff" stroke="#000" stroke-width="0.95"/>
<circle cx="263.5" cy="344.6" r="2.5" fill="#fff" stroke="#000" stroke-width="0.95"/>
<text x="263.5" y="341.03" font-size="4.8" font-weight="bold" text-anchor="middle" fill="#111" transform="rotate(-90 263.5 339.3)">A</text>
<path d="M271.8 333.4 Q265.8 339.3 271.8 345.2" fill="none" stroke="#000" stroke-width="0.95"/>
<circle cx="274" cy="334" r="2.5" fill="#fff" stroke="#000" stroke-width="0.95"/>
<circle cx="274" cy="344.6" r="2.5" fill="#fff" stroke="#000" stroke-width="0.95"/>
<text x="274" y="341.03" font-size="4.8" font-weight="bold" text-anchor="middle" fill="#111" transform="rotate(-90 274 339.3)">B</text>
<text x="248" y="342.8" font-size="5" font-weight="bold" text-anchor="start" fill="#111" textLength="8.5" lengthAdjust="spacingAndGlyphs">LK8</text>
<path d="M274 331.6 L274 327 L288 327 L288 337" fill="none" stroke="#222" stroke-width="1" stroke-linejoin="miter" shape-rendering="crispEdges"/>
<path d="M283 337 L293 337 L288 344.4 Z" fill="none" stroke="#000" stroke-width="0.95" stroke-linejoin="miter"/>
<line x1="263.5" y1="347" x2="263.5" y2="385.5" stroke="#000" stroke-width="1" shape-rendering="crispEdges"/>
<line x1="274" y1="347" x2="274" y2="353" stroke="#000" stroke-width="1" shape-rendering="crispEdges"/>
<line x1="263.5" y1="353" x2="274" y2="353" stroke="#000" stroke-width="1" shape-rendering="crispEdges"/>
<circle cx="263.5" cy="353" r="1.2" fill="#000"/>
<path d="M253.5 379.5 L253.5 401 L234 390.2 Z" fill="none" stroke="#000" stroke-width="0.95" stroke-linejoin="miter"/>
<text x="242.5" y="378.05" font-size="5.7" font-weight="bold" text-anchor="start" fill="#111" textLength="10.5" lengthAdjust="spacingAndGlyphs">U3D</text>
<text x="248.5" y="387.46" font-size="6" font-weight="normal" text-anchor="start" fill="#111">+</text>
<text x="249" y="398.34" font-size="6.5" font-weight="normal" text-anchor="start" fill="#111">-</text>
<text x="257" y="384.33" font-size="4.8" font-weight="bold" text-anchor="start" fill="#111" textLength="5" lengthAdjust="spacingAndGlyphs">12</text>
<text x="257" y="394.93" font-size="4.8" font-weight="bold" text-anchor="start" fill="#111" textLength="5" lengthAdjust="spacingAndGlyphs">13</text>
<text x="226" y="389.23" font-size="4.8" font-weight="bold" text-anchor="start" fill="#111" textLength="5" lengthAdjust="spacingAndGlyphs">14</text>
<line x1="254" y1="385.5" x2="263.5" y2="385.5" stroke="#000" stroke-width="1" shape-rendering="crispEdges"/>
<path d="M254 396 L263.5 396 L263.5 409 L224.5 409 L224.5 390.2" fill="none" stroke="#222" stroke-width="1" stroke-linejoin="miter" shape-rendering="crispEdges"/>
<circle cx="224.5" cy="390.2" r="1.3" fill="#000"/>
<line x1="203" y1="390.2" x2="234" y2="390.2" stroke="#000" stroke-width="1" shape-rendering="crispEdges"/>
<path d="M185.5 390.2 L186.75 387.4 L189.25 393 L191.75 387.4 L194.25 393 L196.75 387.4 L199.25 393 L201.75 387.4 L203 390.2" fill="none" stroke="#000" stroke-width="0.95" stroke-linejoin="miter"/>
<line x1="155.5" y1="390.2" x2="185.5" y2="390.2" stroke="#000" stroke-width="1" shape-rendering="crispEdges"/>
<circle cx="168" cy="390.2" r="1.3" fill="#000"/>
<text x="191" y="384.8" font-size="5" font-weight="bold" text-anchor="start" fill="#111" textLength="6" lengthAdjust="spacingAndGlyphs">R5</text>
<text x="205" y="387.3" font-size="5" font-weight="bold" text-anchor="start" fill="#111" textLength="5.5" lengthAdjust="spacingAndGlyphs">3K</text>
<text x="205" y="396.5" font-size="5" font-weight="bold" text-anchor="start" fill="#111" textLength="9.5" lengthAdjust="spacingAndGlyphs">0.1%</text>
<line x1="155.5" y1="390.2" x2="155.5" y2="400.5" stroke="#000" stroke-width="1" shape-rendering="crispEdges"/>
<path d="M155.5 400.5 L158.3 401.75 L152.7 404.25 L158.3 406.75 L152.7 409.25 L158.3 411.75 L152.7 414.25 L158.3 416.75 L155.5 418" fill="none" stroke="#000" stroke-width="0.95" stroke-linejoin="miter"/>
<line x1="155.5" y1="418" x2="155.5" y2="430.5" stroke="#000" stroke-width="1" shape-rendering="crispEdges"/>
<path d="M150.5 430.5 L160.5 430.5 L155.5 437.9 Z" fill="none" stroke="#000" stroke-width="0.95" stroke-linejoin="miter"/>
<text x="144" y="402.8" font-size="5" font-weight="bold" text-anchor="start" fill="#111" textLength="5.5" lengthAdjust="spacingAndGlyphs">R6</text>
<text x="145.5" y="411.5" font-size="5" font-weight="bold" text-anchor="start" fill="#111" textLength="4.5" lengthAdjust="spacingAndGlyphs">1K</text>
<text x="141" y="417.1" font-size="5" font-weight="bold" text-anchor="start" fill="#111" textLength="9.5" lengthAdjust="spacingAndGlyphs">0.1%</text>
<path d="M168 390.2 L168 462 L192.5 462" fill="none" stroke="#111" stroke-width="1" stroke-linejoin="miter" shape-rendering="crispEdges"/>
<text x="35" y="384.05" font-size="5.7" font-weight="bold" text-anchor="start" fill="#111" textLength="11" lengthAdjust="spacingAndGlyphs">U3A</text>
<path d="M35.5 385.5 L35.5 406.2 L54.5 396 Z" fill="none" stroke="#000" stroke-width="0.95" stroke-linejoin="miter"/>
<text x="37.5" y="392.86" font-size="6" font-weight="normal" text-anchor="start" fill="#111">+</text>
<text x="38" y="403.54" font-size="6.5" font-weight="normal" text-anchor="start" fill="#111">-</text>
<text x="30" y="389.73" font-size="4.8" font-weight="bold" text-anchor="start" fill="#111">3</text>
<text x="30" y="400.23" font-size="4.8" font-weight="bold" text-anchor="start" fill="#111">2</text>
<text x="59" y="394.73" font-size="4.8" font-weight="bold" text-anchor="start" fill="#111">1</text>
<line x1="54.5" y1="396" x2="65" y2="396" stroke="#333" stroke-width="1" shape-rendering="crispEdges"/>
<line x1="26" y1="391" x2="35.5" y2="391" stroke="#000" stroke-width="1" shape-rendering="crispEdges"/>
<line x1="26" y1="401.3" x2="35.5" y2="401.3" stroke="#000" stroke-width="1" shape-rendering="crispEdges"/>
<line x1="26" y1="391" x2="26" y2="422.5" stroke="#000" stroke-width="1" shape-rendering="crispEdges"/>
<circle cx="26" cy="401.3" r="1.3" fill="#000"/>
<path d="M21 422.5 L31 422.5 L26 429.9 Z" fill="none" stroke="#000" stroke-width="0.95" stroke-linejoin="miter"/>
<text x="21" y="457.68" font-size="8" font-weight="normal" text-anchor="start" fill="#222" textLength="10" lengthAdjust="spacingAndGlyphs" style="stroke:#222;stroke-width:0.4px">Vin</text>
<text x="11" y="469.1" font-size="5" font-weight="bold" text-anchor="start" fill="#111" textLength="5" lengthAdjust="spacingAndGlyphs">J3</text>
<rect x="20.85" y="462.25" width="10.3" height="10.3" fill="#fff" stroke="#000" stroke-width="1" shape-rendering="crispEdges"/>
<circle cx="26" cy="467.4" r="2.2" fill="#fff" stroke="#000" stroke-width="1"/>
<circle cx="26" cy="467.4" r="0.8" fill="#000"/>
<line x1="26" y1="472.6" x2="26" y2="490" stroke="#000" stroke-width="1" shape-rendering="crispEdges"/>
<path d="M21 490 L31 490 L26 497.4 Z" fill="none" stroke="#000" stroke-width="0.95" stroke-linejoin="miter"/>
<line x1="31.2" y1="467.3" x2="51" y2="467.3" stroke="#000" stroke-width="1" shape-rendering="crispEdges"/>
<path d="M51 467.3 L52.29 464.5 L54.86 470.1 L57.43 464.5 L60 470.1 L62.57 464.5 L65.14 470.1 L67.71 464.5 L69 467.3" fill="none" stroke="#000" stroke-width="0.95" stroke-linejoin="miter"/>
<line x1="69" y1="467.3" x2="94.5" y2="467.3" stroke="#000" stroke-width="1" shape-rendering="crispEdges"/>
<circle cx="45.6" cy="467.3" r="1.3" fill="#000"/>
<circle cx="79.5" cy="467.3" r="1.3" fill="#000"/>
<text x="57" y="461.8" font-size="5" font-weight="bold" text-anchor="start" fill="#111" textLength="5.5" lengthAdjust="spacingAndGlyphs">R1</text>
<text x="58" y="476.8" font-size="5" font-weight="bold" text-anchor="start" fill="#111" textLength="4.5" lengthAdjust="spacingAndGlyphs">1K</text>
<text x="55" y="482.8" font-size="5" font-weight="bold" text-anchor="start" fill="#111" textLength="9.5" lengthAdjust="spacingAndGlyphs">0.1%</text>
<line x1="45.6" y1="467.3" x2="45.6" y2="486.2" stroke="#000" stroke-width="1" shape-rendering="crispEdges"/>
<path d="M43.4 488 Q37.4 494.3 43.4 500.6" fill="none" stroke="#000" stroke-width="0.95"/>
<circle cx="45.6" cy="488.6" r="2.5" fill="#fff" stroke="#000" stroke-width="0.95"/>
<circle cx="45.6" cy="500" r="2.5" fill="#fff" stroke="#000" stroke-width="0.95"/>
<line x1="45.6" y1="502.4" x2="45.6" y2="520.5" stroke="#000" stroke-width="1" shape-rendering="crispEdges"/>
<text x="48.5" y="496.8" font-size="5" font-weight="bold" text-anchor="start" fill="#111" textLength="9.5" lengthAdjust="spacingAndGlyphs">LK10</text>
<line x1="37" y1="520.5" x2="45.6" y2="520.5" stroke="#000" stroke-width="1" shape-rendering="crispEdges"/>
<path d="M19.5 520.5 L20.75 517.7 L23.25 523.3 L25.75 517.7 L28.25 523.3 L30.75 517.7 L33.25 523.3 L35.75 517.7 L37 520.5" fill="none" stroke="#000" stroke-width="0.95" stroke-linejoin="miter"/>
<path d="M19.5 520.5 L4 520.5 L4 526.5" fill="none" stroke="#000" stroke-width="1" stroke-linejoin="miter" shape-rendering="crispEdges"/>
<path d="M-1 526.5 L9 526.5 L4 533.9 Z" fill="none" stroke="#000" stroke-width="0.95" stroke-linejoin="miter"/>
<text x="25" y="515.8" font-size="5" font-weight="bold" text-anchor="start" fill="#111" textLength="5.5" lengthAdjust="spacingAndGlyphs">R8</text>
<text x="25" y="529.8" font-size="5" font-weight="bold" text-anchor="start" fill="#111" textLength="6" lengthAdjust="spacingAndGlyphs">51r</text>
<text x="26" y="535.8" font-size="5" font-weight="bold" text-anchor="start" fill="#111" textLength="4.5" lengthAdjust="spacingAndGlyphs">1%</text>
<path d="M94.5 462 L94.5 483.6 L114.5 472.8 Z" fill="none" stroke="#000" stroke-width="0.95" stroke-linejoin="miter"/>
<text x="96.5" y="469.34" font-size="6.5" font-weight="normal" text-anchor="start" fill="#111">-</text>
<text x="96" y="480.46" font-size="6" font-weight="normal" text-anchor="start" fill="#111">+</text>
<text x="88" y="466.23" font-size="4.8" font-weight="bold" text-anchor="start" fill="#111">6</text>
<text x="88" y="477.53" font-size="4.8" font-weight="bold" text-anchor="start" fill="#111">5</text>
<text x="118" y="471.73" font-size="4.8" font-weight="bold" text-anchor="start" fill="#111">7</text>
<text x="94" y="490.55" font-size="5.7" font-weight="bold" text-anchor="start" fill="#111" textLength="10.5" lengthAdjust="spacingAndGlyphs">U3B</text>
<path d="M94.5 478.5 L79.5 478.5 L79.5 495" fill="none" stroke="#000" stroke-width="1" stroke-linejoin="miter" shape-rendering="crispEdges"/>
<path d="M74.5 495 L84.5 495 L79.5 502.4 Z" fill="none" stroke="#000" stroke-width="0.95" stroke-linejoin="miter"/>
<path d="M79.5 467.3 L79.5 425 L95.5 425" fill="none" stroke="#000" stroke-width="1" stroke-linejoin="miter" shape-rendering="crispEdges"/>
<path d="M95.5 425 L96.75 422.2 L99.25 427.8 L101.75 422.2 L104.25 427.8 L106.75 422.2 L109.25 427.8 L111.75 422.2 L113 425" fill="none" stroke="#000" stroke-width="0.95" stroke-linejoin="miter"/>
<path d="M113 425 L129 425 L129 472.8" fill="none" stroke="#000" stroke-width="1" stroke-linejoin="miter" shape-rendering="crispEdges"/>
<line x1="79.5" y1="446" x2="104.5" y2="446" stroke="#000" stroke-width="1" shape-rendering="crispEdges"/>
<line x1="109.5" y1="446" x2="129" y2="446" stroke="#000" stroke-width="1" shape-rendering="crispEdges"/>
<line x1="104.5" y1="440.5" x2="104.5" y2="451.5" stroke="#000" stroke-width="1" shape-rendering="crispEdges"/>
<line x1="109.5" y1="440.5" x2="109.5" y2="451.5" stroke="#000" stroke-width="1" shape-rendering="crispEdges"/>
<circle cx="79.5" cy="446" r="1.3" fill="#000"/>
<circle cx="129" cy="446" r="1.3" fill="#000"/>
<text x="101" y="420" font-size="5" font-weight="bold" text-anchor="start" fill="#111" textLength="6" lengthAdjust="spacingAndGlyphs">R2</text>
<text x="116" y="422.8" font-size="5" font-weight="bold" text-anchor="start" fill="#111" textLength="4.5" lengthAdjust="spacingAndGlyphs">1K</text>
<text x="115" y="431.8" font-size="5" font-weight="bold" text-anchor="start" fill="#111" textLength="9.5" lengthAdjust="spacingAndGlyphs">0.1%</text>
<text x="94" y="444.8" font-size="5" font-weight="bold" text-anchor="start" fill="#111" textLength="9" lengthAdjust="spacingAndGlyphs">C30</text>
<text x="112" y="444.8" font-size="5" font-weight="bold" text-anchor="start" fill="#111" textLength="10" lengthAdjust="spacingAndGlyphs">68pF</text>
<text x="112" y="453.8" font-size="5" font-weight="bold" text-anchor="start" fill="#111" textLength="8.5" lengthAdjust="spacingAndGlyphs">NPO</text>
<line x1="114.5" y1="472.8" x2="140" y2="472.8" stroke="#000" stroke-width="1" shape-rendering="crispEdges"/>
<circle cx="129" cy="472.8" r="1.3" fill="#000"/>
<path d="M140 472.8 L141.21 470 L143.64 475.6 L146.07 470 L148.5 475.6 L150.93 470 L153.36 475.6 L155.79 470 L157 472.8" fill="none" stroke="#000" stroke-width="0.95" stroke-linejoin="miter"/>
<line x1="157" y1="472.8" x2="192.5" y2="472.8" stroke="#000" stroke-width="1" shape-rendering="crispEdges"/>
<circle cx="168" cy="472.8" r="1.3" fill="#000"/>
<text x="145" y="467.8" font-size="5" font-weight="bold" text-anchor="start" fill="#111" textLength="5.5" lengthAdjust="spacingAndGlyphs">R3</text>
<text x="146" y="481.8" font-size="5" font-weight="bold" text-anchor="start" fill="#111" textLength="4.5" lengthAdjust="spacingAndGlyphs">1K</text>
<text x="143" y="487.8" font-size="5" font-weight="bold" text-anchor="start" fill="#111" textLength="9.5" lengthAdjust="spacingAndGlyphs">0.1%</text>
<path d="M192.5 457 L192.5 478.6 L212 467.3 Z" fill="none" stroke="#000" stroke-width="0.95" stroke-linejoin="miter"/>
<text x="192" y="455.55" font-size="5.7" font-weight="bold" text-anchor="start" fill="#111" textLength="10.5" lengthAdjust="spacingAndGlyphs">U3C</text>
<text x="194" y="464.16" font-size="6" font-weight="normal" text-anchor="start" fill="#111">+</text>
<text x="194.5" y="475.64" font-size="6.5" font-weight="normal" text-anchor="start" fill="#111">-</text>
<text x="184" y="461.73" font-size="4.8" font-weight="bold" text-anchor="start" fill="#111" textLength="5" lengthAdjust="spacingAndGlyphs">10</text>
<text x="186" y="472.03" font-size="4.8" font-weight="bold" text-anchor="start" fill="#111">9</text>
<text x="215" y="466.03" font-size="4.8" font-weight="bold" text-anchor="start" fill="#111">8</text>
<line x1="212" y1="467.3" x2="260.8" y2="467.3" stroke="#000" stroke-width="1" shape-rendering="crispEdges"/>
<circle cx="237" cy="467.3" r="1.3" fill="#000"/>
<line x1="168" y1="472.8" x2="168" y2="510.5" stroke="#000" stroke-width="1" shape-rendering="crispEdges"/>
<circle cx="168" cy="489" r="1.3" fill="#000"/>
<line x1="168" y1="489" x2="197.5" y2="489" stroke="#000" stroke-width="1" shape-rendering="crispEdges"/>
<line x1="202.5" y1="489" x2="237" y2="489" stroke="#000" stroke-width="1" shape-rendering="crispEdges"/>
<line x1="197.5" y1="483.5" x2="197.5" y2="494.5" stroke="#000" stroke-width="1" shape-rendering="crispEdges"/>
<line x1="202.5" y1="483.5" x2="202.5" y2="494.5" stroke="#000" stroke-width="1" shape-rendering="crispEdges"/>
<circle cx="237" cy="489" r="1.3" fill="#000"/>
<line x1="237" y1="467.3" x2="237" y2="510.5" stroke="#000" stroke-width="1" shape-rendering="crispEdges"/>
<line x1="168" y1="510.5" x2="193" y2="510.5" stroke="#000" stroke-width="1" shape-rendering="crispEdges"/>
<path d="M193 510.5 L194.25 507.7 L196.75 513.3 L199.25 507.7 L201.75 513.3 L204.25 507.7 L206.75 513.3 L209.25 507.7 L210.5 510.5" fill="none" stroke="#000" stroke-width="0.95" stroke-linejoin="miter"/>
<line x1="210.5" y1="510.5" x2="237" y2="510.5" stroke="#000" stroke-width="1" shape-rendering="crispEdges"/>
<text x="188" y="487.8" font-size="5" font-weight="bold" text-anchor="start" fill="#111" textLength="9" lengthAdjust="spacingAndGlyphs">C31</text>
<text x="205" y="487.8" font-size="5" font-weight="bold" text-anchor="start" fill="#111" textLength="10" lengthAdjust="spacingAndGlyphs">68pF</text>
<text x="205" y="496.5" font-size="5" font-weight="bold" text-anchor="start" fill="#111" textLength="8.5" lengthAdjust="spacingAndGlyphs">NPO</text>
<text x="198" y="504.8" font-size="5" font-weight="bold" text-anchor="start" fill="#111" textLength="6" lengthAdjust="spacingAndGlyphs">R4</text>
<text x="214" y="508.8" font-size="5" font-weight="bold" text-anchor="start" fill="#111" textLength="4.5" lengthAdjust="spacingAndGlyphs">1K</text>
<text x="212" y="516.8" font-size="5" font-weight="bold" text-anchor="start" fill="#111" textLength="9.5" lengthAdjust="spacingAndGlyphs">0.1%</text>
<text x="254" y="459.99" font-size="8.3" font-weight="normal" text-anchor="start" fill="#222" textLength="26.5" lengthAdjust="spacingAndGlyphs" style="stroke:#222;stroke-width:0.4px">VBiased</text>
<rect x="261.05" y="462.25" width="10.3" height="10.3" fill="#fff" stroke="#000" stroke-width="1" shape-rendering="crispEdges"/>
<circle cx="266.2" cy="467.4" r="2.2" fill="#fff" stroke="#000" stroke-width="1"/>
<circle cx="266.2" cy="467.4" r="0.8" fill="#000"/>
<text x="274" y="469.1" font-size="5" font-weight="bold" text-anchor="start" fill="#111" textLength="5" lengthAdjust="spacingAndGlyphs">J4</text>
<line x1="266.2" y1="472.6" x2="266.2" y2="490" stroke="#000" stroke-width="1" shape-rendering="crispEdges"/>
<path d="M261.2 490 L271.2 490 L266.2 497.4 Z" fill="none" stroke="#000" stroke-width="0.95" stroke-linejoin="miter"/>
<text x="405" y="267.8" font-size="5" font-weight="bold" text-anchor="start" fill="#111" textLength="6" lengthAdjust="spacingAndGlyphs">V+</text>
<line x1="406" y1="270.6" x2="483.6" y2="270.6" stroke="#000" stroke-width="1" shape-rendering="crispEdges"/>
<circle cx="474" cy="270.6" r="1.3" fill="#000"/>
<line x1="406" y1="270.6" x2="406" y2="313.5" stroke="#000" stroke-width="1" shape-rendering="crispEdges"/>
<line x1="406" y1="323.7" x2="406" y2="377.2" stroke="#000" stroke-width="1" shape-rendering="crispEdges"/>
<path d="M395.5 308 L395.5 329.2 L415 318.6 Z" fill="none" stroke="#000" stroke-width="0.95" stroke-linejoin="miter"/>
<text x="397.5" y="320.73" font-size="4.8" font-weight="bold" text-anchor="start" fill="#111" textLength="9.5" lengthAdjust="spacingAndGlyphs">U3E</text>
<text x="408" y="312.92" font-size="4.5" font-weight="bold" text-anchor="start" fill="#111">4</text>
<text x="408" y="329.92" font-size="4.5" font-weight="bold" text-anchor="start" fill="#111" textLength="4" lengthAdjust="spacingAndGlyphs">11</text>
<line x1="406" y1="287" x2="419.5" y2="287" stroke="#000" stroke-width="1" shape-rendering="crispEdges"/>
<line x1="424.5" y1="287" x2="447" y2="287" stroke="#000" stroke-width="1" shape-rendering="crispEdges"/>
<line x1="419.5" y1="281.3" x2="419.5" y2="292.7" stroke="#000" stroke-width="1" shape-rendering="crispEdges"/>
<line x1="424.5" y1="281.3" x2="424.5" y2="292.7" stroke="#000" stroke-width="1" shape-rendering="crispEdges"/>
<line x1="406" y1="302.2" x2="419.5" y2="302.2" stroke="#000" stroke-width="1" shape-rendering="crispEdges"/>
<line x1="424.5" y1="302.2" x2="447" y2="302.2" stroke="#000" stroke-width="1" shape-rendering="crispEdges"/>
<line x1="419.5" y1="296.5" x2="419.5" y2="307.9" stroke="#000" stroke-width="1" shape-rendering="crispEdges"/>
<line x1="424.5" y1="296.5" x2="424.5" y2="307.9" stroke="#000" stroke-width="1" shape-rendering="crispEdges"/>
<circle cx="406" cy="287" r="1.3" fill="#000"/>
<circle cx="406" cy="302.2" r="1.3" fill="#000"/>
<circle cx="447" cy="302.2" r="1.3" fill="#000"/>
<line x1="447" y1="287" x2="447" y2="312.5" stroke="#000" stroke-width="1" shape-rendering="crispEdges"/>
<path d="M442 312.5 L452 312.5 L447 319.9 Z" fill="none" stroke="#000" stroke-width="0.95" stroke-linejoin="miter"/>
<text x="409.5" y="285.4" font-size="5" font-weight="bold" text-anchor="start" fill="#111" textLength="8.5" lengthAdjust="spacingAndGlyphs">C18</text>
<text x="427" y="285.2" font-size="5" font-weight="bold" text-anchor="start" fill="#111" textLength="11" lengthAdjust="spacingAndGlyphs">0.1uF</text>
<text x="409.5" y="301" font-size="5" font-weight="bold" text-anchor="start" fill="#111" textLength="8.5" lengthAdjust="spacingAndGlyphs">C19</text>
<text x="427" y="301.2" font-size="5" font-weight="bold" text-anchor="start" fill="#111" textLength="9" lengthAdjust="spacingAndGlyphs">10uF</text>
<text x="415.5" y="308.34" font-size="6.5" font-weight="normal" text-anchor="start" fill="#111">+</text>
<line x1="406" y1="340" x2="419.5" y2="340" stroke="#000" stroke-width="1" shape-rendering="crispEdges"/>
<line x1="424.5" y1="340" x2="447" y2="340" stroke="#000" stroke-width="1" shape-rendering="crispEdges"/>
<line x1="419.5" y1="334.3" x2="419.5" y2="345.7" stroke="#000" stroke-width="1" shape-rendering="crispEdges"/>
<line x1="424.5" y1="334.3" x2="424.5" y2="345.7" stroke="#000" stroke-width="1" shape-rendering="crispEdges"/>
<line x1="406" y1="356" x2="419.5" y2="356" stroke="#000" stroke-width="1" shape-rendering="crispEdges"/>
<line x1="424.5" y1="356" x2="447" y2="356" stroke="#000" stroke-width="1" shape-rendering="crispEdges"/>
<line x1="419.5" y1="350.3" x2="419.5" y2="361.7" stroke="#000" stroke-width="1" shape-rendering="crispEdges"/>
<line x1="424.5" y1="350.3" x2="424.5" y2="361.7" stroke="#000" stroke-width="1" shape-rendering="crispEdges"/>
<circle cx="406" cy="340" r="1.3" fill="#000"/>
<circle cx="406" cy="356" r="1.3" fill="#000"/>
<circle cx="447" cy="356" r="1.3" fill="#000"/>
<line x1="447" y1="340" x2="447" y2="366" stroke="#000" stroke-width="1" shape-rendering="crispEdges"/>
<path d="M442 366 L452 366 L447 373.4 Z" fill="none" stroke="#000" stroke-width="0.95" stroke-linejoin="miter"/>
<text x="409.5" y="338.4" font-size="5" font-weight="bold" text-anchor="start" fill="#111" textLength="8.5" lengthAdjust="spacingAndGlyphs">C20</text>
<text x="427" y="338.2" font-size="5" font-weight="bold" text-anchor="start" fill="#111" textLength="11" lengthAdjust="spacingAndGlyphs">0.1uF</text>
<text x="409.5" y="354.8" font-size="5" font-weight="bold" text-anchor="start" fill="#111" textLength="8.5" lengthAdjust="spacingAndGlyphs">C21</text>
<text x="427" y="355" font-size="5" font-weight="bold" text-anchor="start" fill="#111" textLength="9" lengthAdjust="spacingAndGlyphs">10uF</text>
<text x="427" y="362.04" font-size="6.5" font-weight="normal" text-anchor="start" fill="#111">+</text>
<text x="405" y="383.8" font-size="5" font-weight="bold" text-anchor="start" fill="#111" textLength="6" lengthAdjust="spacingAndGlyphs">V-</text>
<line x1="406" y1="377.2" x2="483.6" y2="377.2" stroke="#000" stroke-width="1" shape-rendering="crispEdges"/>
<circle cx="478.5" cy="377.2" r="1.3" fill="#000"/>
<path d="M484.8 268.3 Q490.9 262.1 497 268.3" fill="none" stroke="#000" stroke-width="0.95"/>
<circle cx="485.8" cy="270.6" r="2.5" fill="#fff" stroke="#000" stroke-width="0.95"/>
<circle cx="496" cy="270.6" r="2.5" fill="#fff" stroke="#000" stroke-width="0.95"/>
<text x="490.9" y="272.33" font-size="4.8" font-weight="bold" text-anchor="middle" fill="#111">A</text>
<path d="M484.8 278.7 Q490.9 272.5 497 278.7" fill="none" stroke="#000" stroke-width="0.95"/>
<circle cx="485.8" cy="281" r="2.5" fill="#fff" stroke="#000" stroke-width="0.95"/>
<circle cx="496" cy="281" r="2.5" fill="#fff" stroke="#000" stroke-width="0.95"/>
<text x="490.9" y="282.73" font-size="4.8" font-weight="bold" text-anchor="middle" fill="#111">B</text>
<text x="499.5" y="278.8" font-size="5" font-weight="bold" text-anchor="start" fill="#111" textLength="8.5" lengthAdjust="spacingAndGlyphs">LK6</text>
<path d="M474 270.6 L474 281 L483.6 281" fill="none" stroke="#000" stroke-width="1" stroke-linejoin="miter" shape-rendering="crispEdges"/>
<line x1="498.6" y1="270.6" x2="659" y2="270.6" stroke="#000" stroke-width="1" shape-rendering="crispEdges"/>
<path d="M662 268.3 L659 270.6 L662 272.9" fill="none" stroke="#000" stroke-width="0.95" stroke-linejoin="miter"/>
<text x="664.5" y="272.8" font-size="5" font-weight="bold" text-anchor="start" fill="#111" textLength="17.5" lengthAdjust="spacingAndGlyphs">J5-C30</text>
<text x="647" y="267.8" font-size="5" font-weight="bold" text-anchor="start" fill="#111" textLength="11" lengthAdjust="spacingAndGlyphs">12V+</text>
<line x1="498.6" y1="281" x2="552" y2="281" stroke="#000" stroke-width="1" shape-rendering="crispEdges"/>
<path d="M484.8 368.7 Q490.9 374.9 497 368.7" fill="none" stroke="#000" stroke-width="0.95"/>
<circle cx="485.8" cy="366.4" r="2.5" fill="#fff" stroke="#000" stroke-width="0.95"/>
<circle cx="496" cy="366.4" r="2.5" fill="#fff" stroke="#000" stroke-width="0.95"/>
<text x="490.9" y="368.13" font-size="4.8" font-weight="bold" text-anchor="middle" fill="#111">B</text>
<path d="M484.8 379.5 Q490.9 385.7 497 379.5" fill="none" stroke="#000" stroke-width="0.95"/>
<circle cx="485.8" cy="377.2" r="2.5" fill="#fff" stroke="#000" stroke-width="0.95"/>
<circle cx="496" cy="377.2" r="2.5" fill="#fff" stroke="#000" stroke-width="0.95"/>
<text x="490.9" y="378.93" font-size="4.8" font-weight="bold" text-anchor="middle" fill="#111">A</text>
<text x="499.5" y="373.8" font-size="5" font-weight="bold" text-anchor="start" fill="#111" textLength="8.5" lengthAdjust="spacingAndGlyphs">LK7</text>
<path d="M478.5 377.2 L478.5 366.4 L483.3 366.4" fill="none" stroke="#000" stroke-width="1" stroke-linejoin="miter" shape-rendering="crispEdges"/>
<line x1="498.6" y1="377.2" x2="659" y2="377.2" stroke="#000" stroke-width="1" shape-rendering="crispEdges"/>
<path d="M662 374.9 L659 377.2 L662 379.5" fill="none" stroke="#000" stroke-width="0.95" stroke-linejoin="miter"/>
<text x="664.5" y="379" font-size="5" font-weight="bold" text-anchor="start" fill="#111" textLength="17.5" lengthAdjust="spacingAndGlyphs">J5-A30</text>
<text x="647" y="374.5" font-size="5" font-weight="bold" text-anchor="start" fill="#111" textLength="11" lengthAdjust="spacingAndGlyphs">12V-</text>
<line x1="498.6" y1="366.4" x2="552" y2="366.4" stroke="#000" stroke-width="1" shape-rendering="crispEdges"/>
<line x1="515.5" y1="281" x2="515.5" y2="297.5" stroke="#000" stroke-width="1" shape-rendering="crispEdges"/>
<line x1="515.5" y1="302.5" x2="515.5" y2="346" stroke="#000" stroke-width="1" shape-rendering="crispEdges"/>
<line x1="515.5" y1="351" x2="515.5" y2="366.4" stroke="#000" stroke-width="1" shape-rendering="crispEdges"/>
<line x1="510.2" y1="297.5" x2="520.8" y2="297.5" stroke="#000" stroke-width="1" shape-rendering="crispEdges"/>
<line x1="510.2" y1="302.5" x2="520.8" y2="302.5" stroke="#000" stroke-width="1" shape-rendering="crispEdges"/>
<line x1="510.2" y1="346" x2="520.8" y2="346" stroke="#000" stroke-width="1" shape-rendering="crispEdges"/>
<line x1="510.2" y1="351" x2="520.8" y2="351" stroke="#000" stroke-width="1" shape-rendering="crispEdges"/>
<circle cx="515.5" cy="281" r="1.3" fill="#000"/>
<circle cx="515.5" cy="324" r="1.3" fill="#000"/>
<circle cx="515.5" cy="366.4" r="1.3" fill="#000"/>
<line x1="530" y1="281" x2="530" y2="297.5" stroke="#000" stroke-width="1" shape-rendering="crispEdges"/>
<line x1="530" y1="302.5" x2="530" y2="346" stroke="#000" stroke-width="1" shape-rendering="crispEdges"/>
<line x1="530" y1="351" x2="530" y2="366.4" stroke="#000" stroke-width="1" shape-rendering="crispEdges"/>
<line x1="524.7" y1="297.5" x2="535.3" y2="297.5" stroke="#000" stroke-width="1" shape-rendering="crispEdges"/>
<line x1="524.7" y1="302.5" x2="535.3" y2="302.5" stroke="#000" stroke-width="1" shape-rendering="crispEdges"/>
<line x1="524.7" y1="346" x2="535.3" y2="346" stroke="#000" stroke-width="1" shape-rendering="crispEdges"/>
<line x1="524.7" y1="351" x2="535.3" y2="351" stroke="#000" stroke-width="1" shape-rendering="crispEdges"/>
<circle cx="530" cy="281" r="1.3" fill="#000"/>
<circle cx="530" cy="324" r="1.3" fill="#000"/>
<circle cx="530" cy="366.4" r="1.3" fill="#000"/>
<text x="504" y="295.8" font-size="5" font-weight="bold" text-anchor="start" fill="#111" textLength="8.5" lengthAdjust="spacingAndGlyphs">C22</text>
<text x="501" y="309.8" font-size="5" font-weight="bold" text-anchor="start" fill="#111" textLength="11" lengthAdjust="spacingAndGlyphs">0.1uF</text>
<text x="533" y="295.8" font-size="5" font-weight="bold" text-anchor="start" fill="#111" textLength="8.5" lengthAdjust="spacingAndGlyphs">C23</text>
<text x="532" y="309.8" font-size="5" font-weight="bold" text-anchor="start" fill="#111" textLength="9" lengthAdjust="spacingAndGlyphs">10uF</text>
<text x="505" y="344.1" font-size="5" font-weight="bold" text-anchor="start" fill="#111" textLength="8.5" lengthAdjust="spacingAndGlyphs">C24</text>
<text x="501" y="358.1" font-size="5" font-weight="bold" text-anchor="start" fill="#111" textLength="11" lengthAdjust="spacingAndGlyphs">0.1uF</text>
<text x="533" y="344.1" font-size="5" font-weight="bold" text-anchor="start" fill="#111" textLength="8.5" lengthAdjust="spacingAndGlyphs">C25</text>
<text x="532" y="358.1" font-size="5" font-weight="bold" text-anchor="start" fill="#111" textLength="9" lengthAdjust="spacingAndGlyphs">10uF</text>
<text x="524.7" y="296.34" font-size="6.5" font-weight="normal" text-anchor="start" fill="#111">+</text>
<text x="524.7" y="344.64" font-size="6.5" font-weight="normal" text-anchor="start" fill="#111">+</text>
<line x1="471" y1="324" x2="552" y2="324" stroke="#000" stroke-width="1" shape-rendering="crispEdges"/>
<line x1="471" y1="324" x2="471" y2="330" stroke="#000" stroke-width="1" shape-rendering="crispEdges"/>
<path d="M466 330 L476 330 L471 337.4 Z" fill="none" stroke="#000" stroke-width="0.95" stroke-linejoin="miter"/>
<rect x="552.4" y="278.4" width="5.2" height="5.2" fill="#fff" stroke="#000" stroke-width="1.15"/>
<circle cx="555" cy="281" r="1.4" fill="none" stroke="#000" stroke-width="0.8"/>
<rect x="552.4" y="321.4" width="5.2" height="5.2" fill="#fff" stroke="#000" stroke-width="1.15"/>
<circle cx="555" cy="324" r="1.4" fill="none" stroke="#000" stroke-width="0.8"/>
<rect x="552.4" y="363.8" width="5.2" height="5.2" fill="#fff" stroke="#000" stroke-width="1.15"/>
<circle cx="555" cy="366.4" r="1.4" fill="none" stroke="#000" stroke-width="0.8"/>
<text x="563" y="283.1" font-size="5" font-weight="bold" text-anchor="start" fill="#111" textLength="10.5" lengthAdjust="spacingAndGlyphs">J8-1</text>
<text x="563" y="291.1" font-size="5" font-weight="bold" text-anchor="start" fill="#111" textLength="10.5" lengthAdjust="spacingAndGlyphs">+12V</text>
<text x="563" y="326.1" font-size="5" font-weight="bold" text-anchor="start" fill="#111" textLength="10.5" lengthAdjust="spacingAndGlyphs">J8-2</text>
<text x="561" y="334.1" font-size="5" font-weight="bold" text-anchor="start" fill="#111" textLength="11.5" lengthAdjust="spacingAndGlyphs">AGND</text>
<text x="563" y="361.3" font-size="5" font-weight="bold" text-anchor="start" fill="#111" textLength="10.5" lengthAdjust="spacingAndGlyphs">-12V</text>
<text x="563" y="368.6" font-size="5" font-weight="bold" text-anchor="start" fill="#111" textLength="10.5" lengthAdjust="spacingAndGlyphs">J8-3</text>
<circle cx="614" cy="270.6" r="1.3" fill="#000"/>
<circle cx="628" cy="270.6" r="1.3" fill="#000"/>
<line x1="614" y1="270.6" x2="614" y2="287" stroke="#000" stroke-width="1" shape-rendering="crispEdges"/>
<line x1="608.7" y1="287" x2="619.3" y2="287" stroke="#000" stroke-width="1" shape-rendering="crispEdges"/>
<line x1="608.7" y1="292" x2="619.3" y2="292" stroke="#000" stroke-width="1" shape-rendering="crispEdges"/>
<text x="614.6" y="285.74" font-size="6.5" font-weight="normal" text-anchor="start" fill="#111">+</text>
<path d="M614 292 L614 313 L628 313" fill="none" stroke="#000" stroke-width="1" stroke-linejoin="miter" shape-rendering="crispEdges"/>
<line x1="628" y1="270.6" x2="628" y2="287" stroke="#000" stroke-width="1" shape-rendering="crispEdges"/>
<line x1="622.7" y1="287" x2="633.3" y2="287" stroke="#000" stroke-width="1" shape-rendering="crispEdges"/>
<line x1="622.7" y1="292" x2="633.3" y2="292" stroke="#000" stroke-width="1" shape-rendering="crispEdges"/>
<line x1="628" y1="292" x2="628" y2="318" stroke="#000" stroke-width="1" shape-rendering="crispEdges"/>
<circle cx="628" cy="313" r="1.3" fill="#000"/>
<path d="M623 318 L633 318 L628 325.4 Z" fill="none" stroke="#000" stroke-width="0.95" stroke-linejoin="miter"/>
<text x="600.5" y="285.1" font-size="5" font-weight="bold" text-anchor="start" fill="#111" textLength="8.5" lengthAdjust="spacingAndGlyphs">C26</text>
<text x="600" y="299.1" font-size="5" font-weight="bold" text-anchor="start" fill="#111" textLength="9" lengthAdjust="spacingAndGlyphs">10uF</text>
<text x="630" y="285.1" font-size="5" font-weight="bold" text-anchor="start" fill="#111" textLength="8.5" lengthAdjust="spacingAndGlyphs">C27</text>
<text x="630" y="299.1" font-size="5" font-weight="bold" text-anchor="start" fill="#111" textLength="11" lengthAdjust="spacingAndGlyphs">0.1uF</text>
<path d="M614 356 L614 334.6 L647.5 334.6 L647.5 340" fill="none" stroke="#000" stroke-width="1" stroke-linejoin="miter" shape-rendering="crispEdges"/>
<path d="M642.5 340 L652.5 340 L647.5 347.4 Z" fill="none" stroke="#000" stroke-width="0.95" stroke-linejoin="miter"/>
<circle cx="628" cy="334.6" r="1.3" fill="#000"/>
<line x1="628" y1="334.6" x2="628" y2="356" stroke="#000" stroke-width="1" shape-rendering="crispEdges"/>
<line x1="608.7" y1="356" x2="619.3" y2="356" stroke="#000" stroke-width="1" shape-rendering="crispEdges"/>
<line x1="608.7" y1="361.3" x2="619.3" y2="361.3" stroke="#000" stroke-width="1" shape-rendering="crispEdges"/>
<text x="614.6" y="354.74" font-size="6.5" font-weight="normal" text-anchor="start" fill="#111">+</text>
<line x1="622.7" y1="356" x2="633.3" y2="356" stroke="#000" stroke-width="1" shape-rendering="crispEdges"/>
<line x1="622.7" y1="361.3" x2="633.3" y2="361.3" stroke="#000" stroke-width="1" shape-rendering="crispEdges"/>
<line x1="614" y1="361.3" x2="614" y2="377.2" stroke="#000" stroke-width="1" shape-rendering="crispEdges"/>
<line x1="628" y1="361.3" x2="628" y2="377.2" stroke="#000" stroke-width="1" shape-rendering="crispEdges"/>
<circle cx="614" cy="377.2" r="1.3" fill="#000"/>
<circle cx="628" cy="377.2" r="1.3" fill="#000"/>
<text x="600" y="352.8" font-size="5" font-weight="bold" text-anchor="start" fill="#111" textLength="9" lengthAdjust="spacingAndGlyphs">10uF</text>
<text x="601" y="368.1" font-size="5" font-weight="bold" text-anchor="start" fill="#111" textLength="8.5" lengthAdjust="spacingAndGlyphs">C28</text>
<text x="630" y="352.8" font-size="5" font-weight="bold" text-anchor="start" fill="#111" textLength="11" lengthAdjust="spacingAndGlyphs">0.1uF</text>
<text x="630" y="368.1" font-size="5" font-weight="bold" text-anchor="start" fill="#111" textLength="8.5" lengthAdjust="spacingAndGlyphs">C29</text>
<text x="686.8" y="526.14" font-size="4" font-weight="bold" text-anchor="middle" fill="#111" textLength="22" lengthAdjust="spacingAndGlyphs" transform="rotate(-90 686.8 524.7)">04241-006</text>
</svg>
</body></html>
